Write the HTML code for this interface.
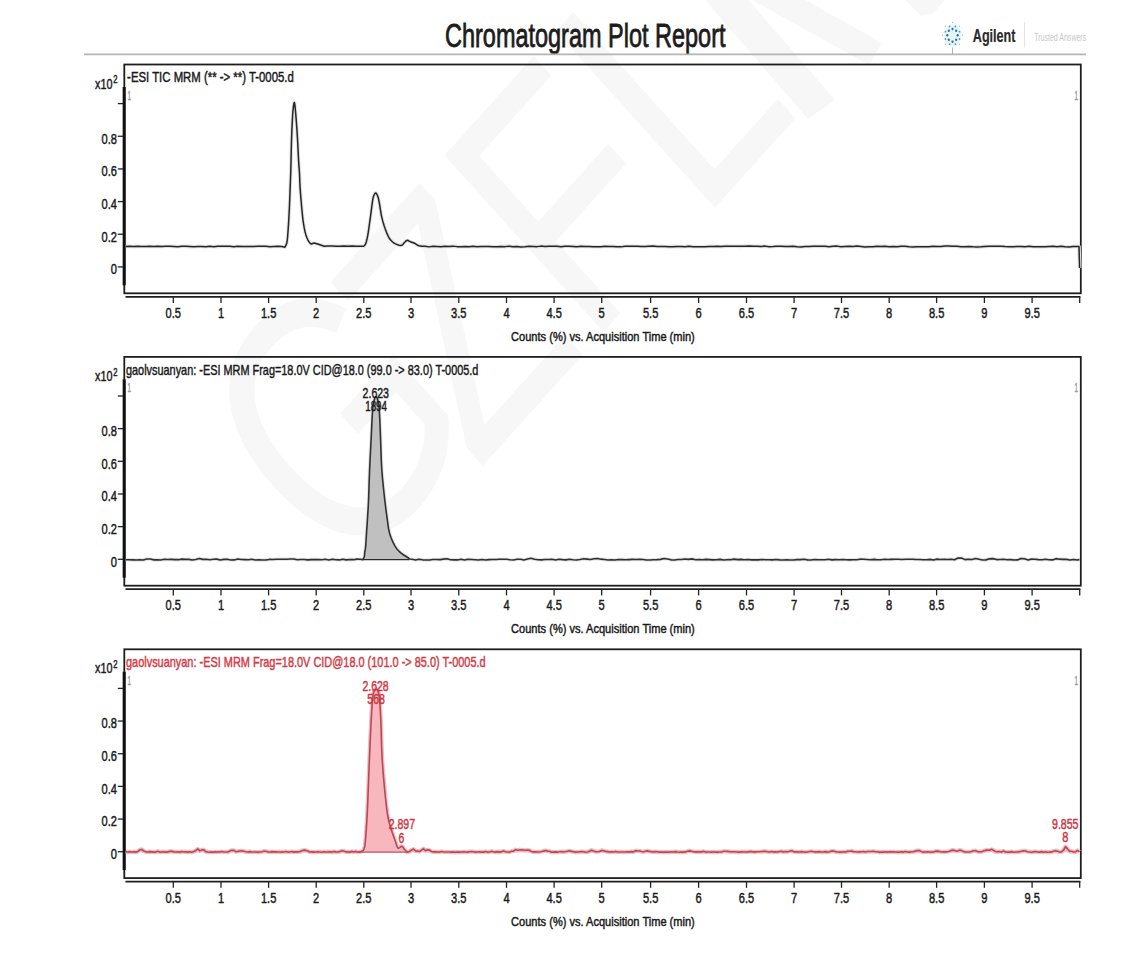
<!DOCTYPE html>
<html><head><meta charset="utf-8"><title>Chromatogram Plot Report</title>
<style>
html,body{margin:0;padding:0;background:#fff;}
body{width:1134px;height:974px;overflow:hidden;font-family:"Liberation Sans", sans-serif;}
svg{display:block;}
svg text{font-family:"Liberation Sans", sans-serif;}
</style></head>
<body>
<svg width="1134" height="974" viewBox="0 0 1134 974">
<rect width="1134" height="974" fill="#fff"/>
<g transform="translate(335,630) scale(0.9,1) rotate(-45) scale(0.79,1)" font-size="363" fill="#f7f7f7"><text x="49.2" y="-24.0">G</text><text x="282.4" y="0.0">Z</text><text x="504.2" y="0.0">F</text><text x="726.0" y="0.0">L</text></g>
<polygon points="808,119 835,100 671.5,-89 644.5,-70" fill="#f7f7f7"/>
<polygon points="650.7,-56.7 663.3,-79.3 881.9,42.7 869.3,65.3" fill="#f7f7f7"/>
<polygon points="903,-2 947,-2 933,13 921,16" fill="#f7f7f7"/>
<text x="445.00" y="47.00" font-size="32.5" text-anchor="start" fill="#1c1c1c" font-weight="normal" textLength="280.50" lengthAdjust="spacingAndGlyphs" stroke="#1c1c1c" stroke-width="0.8">Chromatogram Plot Report</text>
<line x1="84" y1="54.4" x2="1086" y2="54.4" stroke="#b4b4b4" stroke-width="1.7"/>
<ellipse cx="952.5" cy="35.3" rx="9" ry="11" fill="#e4f5fb"/>
<ellipse cx="957.70" cy="35.30" rx="1.06" ry="1.25" fill="#2d6f88"/><ellipse cx="956.18" cy="39.83" rx="1.06" ry="1.25" fill="#2d6f88"/><ellipse cx="952.50" cy="41.70" rx="1.06" ry="1.25" fill="#2d6f88"/><ellipse cx="948.82" cy="39.83" rx="1.06" ry="1.25" fill="#2d6f88"/><ellipse cx="947.30" cy="35.30" rx="1.06" ry="1.25" fill="#2d6f88"/><ellipse cx="948.82" cy="30.77" rx="1.06" ry="1.25" fill="#2d6f88"/><ellipse cx="952.50" cy="28.90" rx="1.06" ry="1.25" fill="#2d6f88"/><ellipse cx="956.18" cy="30.77" rx="1.06" ry="1.25" fill="#2d6f88"/><ellipse cx="959.52" cy="38.97" rx="0.81" ry="0.95" fill="#4e94ae"/><ellipse cx="955.41" cy="44.17" rx="0.81" ry="0.95" fill="#4e94ae"/><ellipse cx="949.59" cy="44.17" rx="0.81" ry="0.95" fill="#4e94ae"/><ellipse cx="945.48" cy="38.97" rx="0.81" ry="0.95" fill="#4e94ae"/><ellipse cx="945.48" cy="31.63" rx="0.81" ry="0.95" fill="#4e94ae"/><ellipse cx="949.59" cy="26.43" rx="0.81" ry="0.95" fill="#4e94ae"/><ellipse cx="955.41" cy="26.43" rx="0.81" ry="0.95" fill="#4e94ae"/><ellipse cx="959.52" cy="31.63" rx="0.81" ry="0.95" fill="#4e94ae"/><ellipse cx="962.50" cy="35.30" rx="0.64" ry="0.75" fill="#93c1d2"/><ellipse cx="959.57" cy="44.35" rx="0.64" ry="0.75" fill="#93c1d2"/><ellipse cx="952.50" cy="48.10" rx="0.64" ry="0.75" fill="#93c1d2"/><ellipse cx="945.43" cy="44.35" rx="0.64" ry="0.75" fill="#93c1d2"/><ellipse cx="942.50" cy="35.30" rx="0.64" ry="0.75" fill="#93c1d2"/><ellipse cx="945.43" cy="26.25" rx="0.64" ry="0.75" fill="#93c1d2"/><ellipse cx="952.50" cy="22.50" rx="0.64" ry="0.75" fill="#93c1d2"/><ellipse cx="959.57" cy="26.25" rx="0.64" ry="0.75" fill="#93c1d2"/>
<line x1="952.5" y1="48.3" x2="952.5" y2="54" stroke="#a0a0a0" stroke-width="0.8"/>
<text x="972.80" y="41.50" font-size="18.8" text-anchor="start" fill="#2a2a2a" font-weight="bold" textLength="42.70" lengthAdjust="spacingAndGlyphs" stroke="#2a2a2a" stroke-width="0.2">Agilent</text>
<line x1="1024.6" y1="22" x2="1024.6" y2="47.5" stroke="#e2e2e2" stroke-width="1"/>
<text x="1034.20" y="41.00" font-size="11.5" text-anchor="start" fill="#c8c8c8" font-weight="normal" textLength="52.00" lengthAdjust="spacingAndGlyphs">Trusted Answers</text>
<text x="127.10" y="82.40" font-size="14.5" text-anchor="start" fill="#1a1a1a" font-weight="normal" textLength="166.70" lengthAdjust="spacingAndGlyphs" stroke="#1a1a1a" stroke-width="0.45">-ESI TIC MRM (** -&gt; **) T-0005.d</text>
<text x="95.00" y="88.60" font-size="14.2" text-anchor="start" fill="#1a1a1a" font-weight="normal" textLength="17.40" lengthAdjust="spacingAndGlyphs" stroke="#1a1a1a" stroke-width="0.45">x10</text>
<text x="113.30" y="83.20" font-size="11" text-anchor="start" fill="#1a1a1a" font-weight="normal" textLength="4.30" lengthAdjust="spacingAndGlyphs" stroke="#1a1a1a" stroke-width="0.45">2</text>
<rect x="124.3" y="64.5" width="956.5" height="228.8" fill="none" stroke="#1e1e1e" stroke-width="1.8"/>
<line x1="124.2" y1="87.0" x2="124.2" y2="285.3" stroke="#111" stroke-width="3.1"/>
<line x1="117.8" y1="103.60" x2="123" y2="103.60" stroke="#222" stroke-width="1.3"/>
<line x1="117.8" y1="136.26" x2="123" y2="136.26" stroke="#222" stroke-width="1.3"/>
<text x="101.50" y="143.66" font-size="14.0" text-anchor="start" fill="#1a1a1a" font-weight="normal" textLength="15.40" lengthAdjust="spacingAndGlyphs" stroke="#1a1a1a" stroke-width="0.45">0.8</text>
<line x1="117.8" y1="168.92" x2="123" y2="168.92" stroke="#222" stroke-width="1.3"/>
<text x="101.50" y="176.32" font-size="14.0" text-anchor="start" fill="#1a1a1a" font-weight="normal" textLength="15.40" lengthAdjust="spacingAndGlyphs" stroke="#1a1a1a" stroke-width="0.45">0.6</text>
<line x1="117.8" y1="201.58" x2="123" y2="201.58" stroke="#222" stroke-width="1.3"/>
<text x="101.50" y="208.98" font-size="14.0" text-anchor="start" fill="#1a1a1a" font-weight="normal" textLength="15.40" lengthAdjust="spacingAndGlyphs" stroke="#1a1a1a" stroke-width="0.45">0.4</text>
<line x1="117.8" y1="234.24" x2="123" y2="234.24" stroke="#222" stroke-width="1.3"/>
<text x="101.50" y="241.64" font-size="14.0" text-anchor="start" fill="#1a1a1a" font-weight="normal" textLength="15.40" lengthAdjust="spacingAndGlyphs" stroke="#1a1a1a" stroke-width="0.45">0.2</text>
<line x1="117.8" y1="266.90" x2="123" y2="266.90" stroke="#222" stroke-width="1.3"/>
<text x="110.70" y="274.30" font-size="14.0" text-anchor="start" fill="#1a1a1a" font-weight="normal" textLength="6.20" lengthAdjust="spacingAndGlyphs" stroke="#1a1a1a" stroke-width="0.45">0</text>
<text x="127.60" y="99.90" font-size="12.5" text-anchor="start" fill="#9a9a9a" font-weight="normal" textLength="3.50" lengthAdjust="spacingAndGlyphs" stroke="#9a9a9a" stroke-width="0.45">1</text>
<text x="1074.50" y="99.90" font-size="12.5" text-anchor="start" fill="#9a9a9a" font-weight="normal" textLength="3.50" lengthAdjust="spacingAndGlyphs" stroke="#9a9a9a" stroke-width="0.45">1</text>
<line x1="125.5" y1="296.8" x2="1080.4" y2="296.8" stroke="#1e1e1e" stroke-width="1.8"/>
<line x1="173.30" y1="296.8" x2="173.30" y2="303.0" stroke="#222" stroke-width="1.3"/>
<text x="165.60" y="318.00" font-size="14.0" text-anchor="start" fill="#1a1a1a" font-weight="normal" textLength="15.40" lengthAdjust="spacingAndGlyphs" stroke="#1a1a1a" stroke-width="0.45">0.5</text>
<line x1="221.00" y1="296.8" x2="221.00" y2="303.0" stroke="#222" stroke-width="1.3"/>
<text x="217.90" y="318.00" font-size="14.0" text-anchor="start" fill="#1a1a1a" font-weight="normal" textLength="6.20" lengthAdjust="spacingAndGlyphs" stroke="#1a1a1a" stroke-width="0.45">1</text>
<line x1="268.60" y1="296.8" x2="268.60" y2="303.0" stroke="#222" stroke-width="1.3"/>
<text x="260.90" y="318.00" font-size="14.0" text-anchor="start" fill="#1a1a1a" font-weight="normal" textLength="15.40" lengthAdjust="spacingAndGlyphs" stroke="#1a1a1a" stroke-width="0.45">1.5</text>
<line x1="316.20" y1="296.8" x2="316.20" y2="303.0" stroke="#222" stroke-width="1.3"/>
<text x="313.10" y="318.00" font-size="14.0" text-anchor="start" fill="#1a1a1a" font-weight="normal" textLength="6.20" lengthAdjust="spacingAndGlyphs" stroke="#1a1a1a" stroke-width="0.45">2</text>
<line x1="363.80" y1="296.8" x2="363.80" y2="303.0" stroke="#222" stroke-width="1.3"/>
<text x="356.10" y="318.00" font-size="14.0" text-anchor="start" fill="#1a1a1a" font-weight="normal" textLength="15.40" lengthAdjust="spacingAndGlyphs" stroke="#1a1a1a" stroke-width="0.45">2.5</text>
<line x1="411.00" y1="296.8" x2="411.00" y2="303.0" stroke="#222" stroke-width="1.3"/>
<text x="407.90" y="318.00" font-size="14.0" text-anchor="start" fill="#1a1a1a" font-weight="normal" textLength="6.20" lengthAdjust="spacingAndGlyphs" stroke="#1a1a1a" stroke-width="0.45">3</text>
<line x1="458.80" y1="296.8" x2="458.80" y2="303.0" stroke="#222" stroke-width="1.3"/>
<text x="451.10" y="318.00" font-size="14.0" text-anchor="start" fill="#1a1a1a" font-weight="normal" textLength="15.40" lengthAdjust="spacingAndGlyphs" stroke="#1a1a1a" stroke-width="0.45">3.5</text>
<line x1="506.50" y1="296.8" x2="506.50" y2="303.0" stroke="#222" stroke-width="1.3"/>
<text x="503.40" y="318.00" font-size="14.0" text-anchor="start" fill="#1a1a1a" font-weight="normal" textLength="6.20" lengthAdjust="spacingAndGlyphs" stroke="#1a1a1a" stroke-width="0.45">4</text>
<line x1="554.10" y1="296.8" x2="554.10" y2="303.0" stroke="#222" stroke-width="1.3"/>
<text x="546.40" y="318.00" font-size="14.0" text-anchor="start" fill="#1a1a1a" font-weight="normal" textLength="15.40" lengthAdjust="spacingAndGlyphs" stroke="#1a1a1a" stroke-width="0.45">4.5</text>
<line x1="601.70" y1="296.8" x2="601.70" y2="303.0" stroke="#222" stroke-width="1.3"/>
<text x="598.60" y="318.00" font-size="14.0" text-anchor="start" fill="#1a1a1a" font-weight="normal" textLength="6.20" lengthAdjust="spacingAndGlyphs" stroke="#1a1a1a" stroke-width="0.45">5</text>
<line x1="650.60" y1="296.8" x2="650.60" y2="303.0" stroke="#222" stroke-width="1.3"/>
<text x="642.90" y="318.00" font-size="14.0" text-anchor="start" fill="#1a1a1a" font-weight="normal" textLength="15.40" lengthAdjust="spacingAndGlyphs" stroke="#1a1a1a" stroke-width="0.45">5.5</text>
<line x1="698.60" y1="296.8" x2="698.60" y2="303.0" stroke="#222" stroke-width="1.3"/>
<text x="695.50" y="318.00" font-size="14.0" text-anchor="start" fill="#1a1a1a" font-weight="normal" textLength="6.20" lengthAdjust="spacingAndGlyphs" stroke="#1a1a1a" stroke-width="0.45">6</text>
<line x1="746.50" y1="296.8" x2="746.50" y2="303.0" stroke="#222" stroke-width="1.3"/>
<text x="738.80" y="318.00" font-size="14.0" text-anchor="start" fill="#1a1a1a" font-weight="normal" textLength="15.40" lengthAdjust="spacingAndGlyphs" stroke="#1a1a1a" stroke-width="0.45">6.5</text>
<line x1="794.10" y1="296.8" x2="794.10" y2="303.0" stroke="#222" stroke-width="1.3"/>
<text x="791.00" y="318.00" font-size="14.0" text-anchor="start" fill="#1a1a1a" font-weight="normal" textLength="6.20" lengthAdjust="spacingAndGlyphs" stroke="#1a1a1a" stroke-width="0.45">7</text>
<line x1="841.50" y1="296.8" x2="841.50" y2="303.0" stroke="#222" stroke-width="1.3"/>
<text x="833.80" y="318.00" font-size="14.0" text-anchor="start" fill="#1a1a1a" font-weight="normal" textLength="15.40" lengthAdjust="spacingAndGlyphs" stroke="#1a1a1a" stroke-width="0.45">7.5</text>
<line x1="889.20" y1="296.8" x2="889.20" y2="303.0" stroke="#222" stroke-width="1.3"/>
<text x="886.10" y="318.00" font-size="14.0" text-anchor="start" fill="#1a1a1a" font-weight="normal" textLength="6.20" lengthAdjust="spacingAndGlyphs" stroke="#1a1a1a" stroke-width="0.45">8</text>
<line x1="936.60" y1="296.8" x2="936.60" y2="303.0" stroke="#222" stroke-width="1.3"/>
<text x="928.90" y="318.00" font-size="14.0" text-anchor="start" fill="#1a1a1a" font-weight="normal" textLength="15.40" lengthAdjust="spacingAndGlyphs" stroke="#1a1a1a" stroke-width="0.45">8.5</text>
<line x1="984.40" y1="296.8" x2="984.40" y2="303.0" stroke="#222" stroke-width="1.3"/>
<text x="981.30" y="318.00" font-size="14.0" text-anchor="start" fill="#1a1a1a" font-weight="normal" textLength="6.20" lengthAdjust="spacingAndGlyphs" stroke="#1a1a1a" stroke-width="0.45">9</text>
<line x1="1032.10" y1="296.8" x2="1032.10" y2="303.0" stroke="#222" stroke-width="1.3"/>
<text x="1024.40" y="318.00" font-size="14.0" text-anchor="start" fill="#1a1a1a" font-weight="normal" textLength="15.40" lengthAdjust="spacingAndGlyphs" stroke="#1a1a1a" stroke-width="0.45">9.5</text>
<line x1="1079.70" y1="296.8" x2="1079.70" y2="303.0" stroke="#222" stroke-width="1.3"/>
<text x="511.10" y="340.90" font-size="12.6" text-anchor="start" fill="#1a1a1a" font-weight="normal" textLength="183.70" lengthAdjust="spacingAndGlyphs" stroke="#1a1a1a" stroke-width="0.45">Counts (%) vs. Acquisition Time (min)</text>
<text x="126.00" y="374.80" font-size="14.5" text-anchor="start" fill="#1a1a1a" font-weight="normal" textLength="352.40" lengthAdjust="spacingAndGlyphs" stroke="#1a1a1a" stroke-width="0.45">gaolvsuanyan: -ESI MRM Frag=18.0V CID@18.0 (99.0 -&gt; 83.0) T-0005.d</text>
<text x="95.00" y="381.00" font-size="14.2" text-anchor="start" fill="#1a1a1a" font-weight="normal" textLength="17.40" lengthAdjust="spacingAndGlyphs" stroke="#1a1a1a" stroke-width="0.45">x10</text>
<text x="113.30" y="375.60" font-size="11" text-anchor="start" fill="#1a1a1a" font-weight="normal" textLength="4.30" lengthAdjust="spacingAndGlyphs" stroke="#1a1a1a" stroke-width="0.45">2</text>
<rect x="124.3" y="356.9" width="956.5" height="228.8" fill="none" stroke="#1e1e1e" stroke-width="1.8"/>
<line x1="124.2" y1="379.4" x2="124.2" y2="577.7" stroke="#111" stroke-width="3.1"/>
<line x1="117.8" y1="396.00" x2="123" y2="396.00" stroke="#222" stroke-width="1.3"/>
<line x1="117.8" y1="428.66" x2="123" y2="428.66" stroke="#222" stroke-width="1.3"/>
<text x="101.50" y="436.06" font-size="14.0" text-anchor="start" fill="#1a1a1a" font-weight="normal" textLength="15.40" lengthAdjust="spacingAndGlyphs" stroke="#1a1a1a" stroke-width="0.45">0.8</text>
<line x1="117.8" y1="461.32" x2="123" y2="461.32" stroke="#222" stroke-width="1.3"/>
<text x="101.50" y="468.72" font-size="14.0" text-anchor="start" fill="#1a1a1a" font-weight="normal" textLength="15.40" lengthAdjust="spacingAndGlyphs" stroke="#1a1a1a" stroke-width="0.45">0.6</text>
<line x1="117.8" y1="493.98" x2="123" y2="493.98" stroke="#222" stroke-width="1.3"/>
<text x="101.50" y="501.38" font-size="14.0" text-anchor="start" fill="#1a1a1a" font-weight="normal" textLength="15.40" lengthAdjust="spacingAndGlyphs" stroke="#1a1a1a" stroke-width="0.45">0.4</text>
<line x1="117.8" y1="526.64" x2="123" y2="526.64" stroke="#222" stroke-width="1.3"/>
<text x="101.50" y="534.04" font-size="14.0" text-anchor="start" fill="#1a1a1a" font-weight="normal" textLength="15.40" lengthAdjust="spacingAndGlyphs" stroke="#1a1a1a" stroke-width="0.45">0.2</text>
<line x1="117.8" y1="559.30" x2="123" y2="559.30" stroke="#222" stroke-width="1.3"/>
<text x="110.70" y="566.70" font-size="14.0" text-anchor="start" fill="#1a1a1a" font-weight="normal" textLength="6.20" lengthAdjust="spacingAndGlyphs" stroke="#1a1a1a" stroke-width="0.45">0</text>
<text x="127.60" y="392.30" font-size="12.5" text-anchor="start" fill="#9a9a9a" font-weight="normal" textLength="3.50" lengthAdjust="spacingAndGlyphs" stroke="#9a9a9a" stroke-width="0.45">1</text>
<text x="1074.50" y="392.30" font-size="12.5" text-anchor="start" fill="#9a9a9a" font-weight="normal" textLength="3.50" lengthAdjust="spacingAndGlyphs" stroke="#9a9a9a" stroke-width="0.45">1</text>
<line x1="125.5" y1="589.2" x2="1080.4" y2="589.2" stroke="#1e1e1e" stroke-width="1.8"/>
<line x1="173.30" y1="589.2" x2="173.30" y2="595.4" stroke="#222" stroke-width="1.3"/>
<text x="165.60" y="610.40" font-size="14.0" text-anchor="start" fill="#1a1a1a" font-weight="normal" textLength="15.40" lengthAdjust="spacingAndGlyphs" stroke="#1a1a1a" stroke-width="0.45">0.5</text>
<line x1="221.00" y1="589.2" x2="221.00" y2="595.4" stroke="#222" stroke-width="1.3"/>
<text x="217.90" y="610.40" font-size="14.0" text-anchor="start" fill="#1a1a1a" font-weight="normal" textLength="6.20" lengthAdjust="spacingAndGlyphs" stroke="#1a1a1a" stroke-width="0.45">1</text>
<line x1="268.60" y1="589.2" x2="268.60" y2="595.4" stroke="#222" stroke-width="1.3"/>
<text x="260.90" y="610.40" font-size="14.0" text-anchor="start" fill="#1a1a1a" font-weight="normal" textLength="15.40" lengthAdjust="spacingAndGlyphs" stroke="#1a1a1a" stroke-width="0.45">1.5</text>
<line x1="316.20" y1="589.2" x2="316.20" y2="595.4" stroke="#222" stroke-width="1.3"/>
<text x="313.10" y="610.40" font-size="14.0" text-anchor="start" fill="#1a1a1a" font-weight="normal" textLength="6.20" lengthAdjust="spacingAndGlyphs" stroke="#1a1a1a" stroke-width="0.45">2</text>
<line x1="363.80" y1="589.2" x2="363.80" y2="595.4" stroke="#222" stroke-width="1.3"/>
<text x="356.10" y="610.40" font-size="14.0" text-anchor="start" fill="#1a1a1a" font-weight="normal" textLength="15.40" lengthAdjust="spacingAndGlyphs" stroke="#1a1a1a" stroke-width="0.45">2.5</text>
<line x1="411.00" y1="589.2" x2="411.00" y2="595.4" stroke="#222" stroke-width="1.3"/>
<text x="407.90" y="610.40" font-size="14.0" text-anchor="start" fill="#1a1a1a" font-weight="normal" textLength="6.20" lengthAdjust="spacingAndGlyphs" stroke="#1a1a1a" stroke-width="0.45">3</text>
<line x1="458.80" y1="589.2" x2="458.80" y2="595.4" stroke="#222" stroke-width="1.3"/>
<text x="451.10" y="610.40" font-size="14.0" text-anchor="start" fill="#1a1a1a" font-weight="normal" textLength="15.40" lengthAdjust="spacingAndGlyphs" stroke="#1a1a1a" stroke-width="0.45">3.5</text>
<line x1="506.50" y1="589.2" x2="506.50" y2="595.4" stroke="#222" stroke-width="1.3"/>
<text x="503.40" y="610.40" font-size="14.0" text-anchor="start" fill="#1a1a1a" font-weight="normal" textLength="6.20" lengthAdjust="spacingAndGlyphs" stroke="#1a1a1a" stroke-width="0.45">4</text>
<line x1="554.10" y1="589.2" x2="554.10" y2="595.4" stroke="#222" stroke-width="1.3"/>
<text x="546.40" y="610.40" font-size="14.0" text-anchor="start" fill="#1a1a1a" font-weight="normal" textLength="15.40" lengthAdjust="spacingAndGlyphs" stroke="#1a1a1a" stroke-width="0.45">4.5</text>
<line x1="601.70" y1="589.2" x2="601.70" y2="595.4" stroke="#222" stroke-width="1.3"/>
<text x="598.60" y="610.40" font-size="14.0" text-anchor="start" fill="#1a1a1a" font-weight="normal" textLength="6.20" lengthAdjust="spacingAndGlyphs" stroke="#1a1a1a" stroke-width="0.45">5</text>
<line x1="650.60" y1="589.2" x2="650.60" y2="595.4" stroke="#222" stroke-width="1.3"/>
<text x="642.90" y="610.40" font-size="14.0" text-anchor="start" fill="#1a1a1a" font-weight="normal" textLength="15.40" lengthAdjust="spacingAndGlyphs" stroke="#1a1a1a" stroke-width="0.45">5.5</text>
<line x1="698.60" y1="589.2" x2="698.60" y2="595.4" stroke="#222" stroke-width="1.3"/>
<text x="695.50" y="610.40" font-size="14.0" text-anchor="start" fill="#1a1a1a" font-weight="normal" textLength="6.20" lengthAdjust="spacingAndGlyphs" stroke="#1a1a1a" stroke-width="0.45">6</text>
<line x1="746.50" y1="589.2" x2="746.50" y2="595.4" stroke="#222" stroke-width="1.3"/>
<text x="738.80" y="610.40" font-size="14.0" text-anchor="start" fill="#1a1a1a" font-weight="normal" textLength="15.40" lengthAdjust="spacingAndGlyphs" stroke="#1a1a1a" stroke-width="0.45">6.5</text>
<line x1="794.10" y1="589.2" x2="794.10" y2="595.4" stroke="#222" stroke-width="1.3"/>
<text x="791.00" y="610.40" font-size="14.0" text-anchor="start" fill="#1a1a1a" font-weight="normal" textLength="6.20" lengthAdjust="spacingAndGlyphs" stroke="#1a1a1a" stroke-width="0.45">7</text>
<line x1="841.50" y1="589.2" x2="841.50" y2="595.4" stroke="#222" stroke-width="1.3"/>
<text x="833.80" y="610.40" font-size="14.0" text-anchor="start" fill="#1a1a1a" font-weight="normal" textLength="15.40" lengthAdjust="spacingAndGlyphs" stroke="#1a1a1a" stroke-width="0.45">7.5</text>
<line x1="889.20" y1="589.2" x2="889.20" y2="595.4" stroke="#222" stroke-width="1.3"/>
<text x="886.10" y="610.40" font-size="14.0" text-anchor="start" fill="#1a1a1a" font-weight="normal" textLength="6.20" lengthAdjust="spacingAndGlyphs" stroke="#1a1a1a" stroke-width="0.45">8</text>
<line x1="936.60" y1="589.2" x2="936.60" y2="595.4" stroke="#222" stroke-width="1.3"/>
<text x="928.90" y="610.40" font-size="14.0" text-anchor="start" fill="#1a1a1a" font-weight="normal" textLength="15.40" lengthAdjust="spacingAndGlyphs" stroke="#1a1a1a" stroke-width="0.45">8.5</text>
<line x1="984.40" y1="589.2" x2="984.40" y2="595.4" stroke="#222" stroke-width="1.3"/>
<text x="981.30" y="610.40" font-size="14.0" text-anchor="start" fill="#1a1a1a" font-weight="normal" textLength="6.20" lengthAdjust="spacingAndGlyphs" stroke="#1a1a1a" stroke-width="0.45">9</text>
<line x1="1032.10" y1="589.2" x2="1032.10" y2="595.4" stroke="#222" stroke-width="1.3"/>
<text x="1024.40" y="610.40" font-size="14.0" text-anchor="start" fill="#1a1a1a" font-weight="normal" textLength="15.40" lengthAdjust="spacingAndGlyphs" stroke="#1a1a1a" stroke-width="0.45">9.5</text>
<line x1="1079.70" y1="589.2" x2="1079.70" y2="595.4" stroke="#222" stroke-width="1.3"/>
<text x="511.10" y="633.30" font-size="12.6" text-anchor="start" fill="#1a1a1a" font-weight="normal" textLength="183.70" lengthAdjust="spacingAndGlyphs" stroke="#1a1a1a" stroke-width="0.45">Counts (%) vs. Acquisition Time (min)</text>
<text x="126.00" y="667.20" font-size="14.5" text-anchor="start" fill="#d43a45" font-weight="normal" textLength="359.60" lengthAdjust="spacingAndGlyphs" stroke="#d43a45" stroke-width="0.45">gaolvsuanyan: -ESI MRM Frag=18.0V CID@18.0 (101.0 -&gt; 85.0) T-0005.d</text>
<text x="95.00" y="673.40" font-size="14.2" text-anchor="start" fill="#1a1a1a" font-weight="normal" textLength="17.40" lengthAdjust="spacingAndGlyphs" stroke="#1a1a1a" stroke-width="0.45">x10</text>
<text x="113.30" y="668.00" font-size="11" text-anchor="start" fill="#1a1a1a" font-weight="normal" textLength="4.30" lengthAdjust="spacingAndGlyphs" stroke="#1a1a1a" stroke-width="0.45">2</text>
<rect x="124.3" y="649.3" width="956.5" height="228.8" fill="none" stroke="#1e1e1e" stroke-width="1.8"/>
<line x1="124.2" y1="671.8" x2="124.2" y2="870.0999999999999" stroke="#111" stroke-width="3.1"/>
<line x1="117.8" y1="688.40" x2="123" y2="688.40" stroke="#222" stroke-width="1.3"/>
<line x1="117.8" y1="721.06" x2="123" y2="721.06" stroke="#222" stroke-width="1.3"/>
<text x="101.50" y="728.46" font-size="14.0" text-anchor="start" fill="#1a1a1a" font-weight="normal" textLength="15.40" lengthAdjust="spacingAndGlyphs" stroke="#1a1a1a" stroke-width="0.45">0.8</text>
<line x1="117.8" y1="753.72" x2="123" y2="753.72" stroke="#222" stroke-width="1.3"/>
<text x="101.50" y="761.12" font-size="14.0" text-anchor="start" fill="#1a1a1a" font-weight="normal" textLength="15.40" lengthAdjust="spacingAndGlyphs" stroke="#1a1a1a" stroke-width="0.45">0.6</text>
<line x1="117.8" y1="786.38" x2="123" y2="786.38" stroke="#222" stroke-width="1.3"/>
<text x="101.50" y="793.78" font-size="14.0" text-anchor="start" fill="#1a1a1a" font-weight="normal" textLength="15.40" lengthAdjust="spacingAndGlyphs" stroke="#1a1a1a" stroke-width="0.45">0.4</text>
<line x1="117.8" y1="819.04" x2="123" y2="819.04" stroke="#222" stroke-width="1.3"/>
<text x="101.50" y="826.44" font-size="14.0" text-anchor="start" fill="#1a1a1a" font-weight="normal" textLength="15.40" lengthAdjust="spacingAndGlyphs" stroke="#1a1a1a" stroke-width="0.45">0.2</text>
<line x1="117.8" y1="851.70" x2="123" y2="851.70" stroke="#222" stroke-width="1.3"/>
<text x="110.70" y="859.10" font-size="14.0" text-anchor="start" fill="#1a1a1a" font-weight="normal" textLength="6.20" lengthAdjust="spacingAndGlyphs" stroke="#1a1a1a" stroke-width="0.45">0</text>
<text x="127.60" y="684.70" font-size="12.5" text-anchor="start" fill="#9a9a9a" font-weight="normal" textLength="3.50" lengthAdjust="spacingAndGlyphs" stroke="#9a9a9a" stroke-width="0.45">1</text>
<text x="1074.50" y="684.70" font-size="12.5" text-anchor="start" fill="#9a9a9a" font-weight="normal" textLength="3.50" lengthAdjust="spacingAndGlyphs" stroke="#9a9a9a" stroke-width="0.45">1</text>
<line x1="125.5" y1="881.5999999999999" x2="1080.4" y2="881.5999999999999" stroke="#1e1e1e" stroke-width="1.8"/>
<line x1="173.30" y1="881.5999999999999" x2="173.30" y2="887.8" stroke="#222" stroke-width="1.3"/>
<text x="165.60" y="902.80" font-size="14.0" text-anchor="start" fill="#1a1a1a" font-weight="normal" textLength="15.40" lengthAdjust="spacingAndGlyphs" stroke="#1a1a1a" stroke-width="0.45">0.5</text>
<line x1="221.00" y1="881.5999999999999" x2="221.00" y2="887.8" stroke="#222" stroke-width="1.3"/>
<text x="217.90" y="902.80" font-size="14.0" text-anchor="start" fill="#1a1a1a" font-weight="normal" textLength="6.20" lengthAdjust="spacingAndGlyphs" stroke="#1a1a1a" stroke-width="0.45">1</text>
<line x1="268.60" y1="881.5999999999999" x2="268.60" y2="887.8" stroke="#222" stroke-width="1.3"/>
<text x="260.90" y="902.80" font-size="14.0" text-anchor="start" fill="#1a1a1a" font-weight="normal" textLength="15.40" lengthAdjust="spacingAndGlyphs" stroke="#1a1a1a" stroke-width="0.45">1.5</text>
<line x1="316.20" y1="881.5999999999999" x2="316.20" y2="887.8" stroke="#222" stroke-width="1.3"/>
<text x="313.10" y="902.80" font-size="14.0" text-anchor="start" fill="#1a1a1a" font-weight="normal" textLength="6.20" lengthAdjust="spacingAndGlyphs" stroke="#1a1a1a" stroke-width="0.45">2</text>
<line x1="363.80" y1="881.5999999999999" x2="363.80" y2="887.8" stroke="#222" stroke-width="1.3"/>
<text x="356.10" y="902.80" font-size="14.0" text-anchor="start" fill="#1a1a1a" font-weight="normal" textLength="15.40" lengthAdjust="spacingAndGlyphs" stroke="#1a1a1a" stroke-width="0.45">2.5</text>
<line x1="411.00" y1="881.5999999999999" x2="411.00" y2="887.8" stroke="#222" stroke-width="1.3"/>
<text x="407.90" y="902.80" font-size="14.0" text-anchor="start" fill="#1a1a1a" font-weight="normal" textLength="6.20" lengthAdjust="spacingAndGlyphs" stroke="#1a1a1a" stroke-width="0.45">3</text>
<line x1="458.80" y1="881.5999999999999" x2="458.80" y2="887.8" stroke="#222" stroke-width="1.3"/>
<text x="451.10" y="902.80" font-size="14.0" text-anchor="start" fill="#1a1a1a" font-weight="normal" textLength="15.40" lengthAdjust="spacingAndGlyphs" stroke="#1a1a1a" stroke-width="0.45">3.5</text>
<line x1="506.50" y1="881.5999999999999" x2="506.50" y2="887.8" stroke="#222" stroke-width="1.3"/>
<text x="503.40" y="902.80" font-size="14.0" text-anchor="start" fill="#1a1a1a" font-weight="normal" textLength="6.20" lengthAdjust="spacingAndGlyphs" stroke="#1a1a1a" stroke-width="0.45">4</text>
<line x1="554.10" y1="881.5999999999999" x2="554.10" y2="887.8" stroke="#222" stroke-width="1.3"/>
<text x="546.40" y="902.80" font-size="14.0" text-anchor="start" fill="#1a1a1a" font-weight="normal" textLength="15.40" lengthAdjust="spacingAndGlyphs" stroke="#1a1a1a" stroke-width="0.45">4.5</text>
<line x1="601.70" y1="881.5999999999999" x2="601.70" y2="887.8" stroke="#222" stroke-width="1.3"/>
<text x="598.60" y="902.80" font-size="14.0" text-anchor="start" fill="#1a1a1a" font-weight="normal" textLength="6.20" lengthAdjust="spacingAndGlyphs" stroke="#1a1a1a" stroke-width="0.45">5</text>
<line x1="650.60" y1="881.5999999999999" x2="650.60" y2="887.8" stroke="#222" stroke-width="1.3"/>
<text x="642.90" y="902.80" font-size="14.0" text-anchor="start" fill="#1a1a1a" font-weight="normal" textLength="15.40" lengthAdjust="spacingAndGlyphs" stroke="#1a1a1a" stroke-width="0.45">5.5</text>
<line x1="698.60" y1="881.5999999999999" x2="698.60" y2="887.8" stroke="#222" stroke-width="1.3"/>
<text x="695.50" y="902.80" font-size="14.0" text-anchor="start" fill="#1a1a1a" font-weight="normal" textLength="6.20" lengthAdjust="spacingAndGlyphs" stroke="#1a1a1a" stroke-width="0.45">6</text>
<line x1="746.50" y1="881.5999999999999" x2="746.50" y2="887.8" stroke="#222" stroke-width="1.3"/>
<text x="738.80" y="902.80" font-size="14.0" text-anchor="start" fill="#1a1a1a" font-weight="normal" textLength="15.40" lengthAdjust="spacingAndGlyphs" stroke="#1a1a1a" stroke-width="0.45">6.5</text>
<line x1="794.10" y1="881.5999999999999" x2="794.10" y2="887.8" stroke="#222" stroke-width="1.3"/>
<text x="791.00" y="902.80" font-size="14.0" text-anchor="start" fill="#1a1a1a" font-weight="normal" textLength="6.20" lengthAdjust="spacingAndGlyphs" stroke="#1a1a1a" stroke-width="0.45">7</text>
<line x1="841.50" y1="881.5999999999999" x2="841.50" y2="887.8" stroke="#222" stroke-width="1.3"/>
<text x="833.80" y="902.80" font-size="14.0" text-anchor="start" fill="#1a1a1a" font-weight="normal" textLength="15.40" lengthAdjust="spacingAndGlyphs" stroke="#1a1a1a" stroke-width="0.45">7.5</text>
<line x1="889.20" y1="881.5999999999999" x2="889.20" y2="887.8" stroke="#222" stroke-width="1.3"/>
<text x="886.10" y="902.80" font-size="14.0" text-anchor="start" fill="#1a1a1a" font-weight="normal" textLength="6.20" lengthAdjust="spacingAndGlyphs" stroke="#1a1a1a" stroke-width="0.45">8</text>
<line x1="936.60" y1="881.5999999999999" x2="936.60" y2="887.8" stroke="#222" stroke-width="1.3"/>
<text x="928.90" y="902.80" font-size="14.0" text-anchor="start" fill="#1a1a1a" font-weight="normal" textLength="15.40" lengthAdjust="spacingAndGlyphs" stroke="#1a1a1a" stroke-width="0.45">8.5</text>
<line x1="984.40" y1="881.5999999999999" x2="984.40" y2="887.8" stroke="#222" stroke-width="1.3"/>
<text x="981.30" y="902.80" font-size="14.0" text-anchor="start" fill="#1a1a1a" font-weight="normal" textLength="6.20" lengthAdjust="spacingAndGlyphs" stroke="#1a1a1a" stroke-width="0.45">9</text>
<line x1="1032.10" y1="881.5999999999999" x2="1032.10" y2="887.8" stroke="#222" stroke-width="1.3"/>
<text x="1024.40" y="902.80" font-size="14.0" text-anchor="start" fill="#1a1a1a" font-weight="normal" textLength="15.40" lengthAdjust="spacingAndGlyphs" stroke="#1a1a1a" stroke-width="0.45">9.5</text>
<line x1="1079.70" y1="881.5999999999999" x2="1079.70" y2="887.8" stroke="#222" stroke-width="1.3"/>
<text x="511.10" y="925.70" font-size="12.6" text-anchor="start" fill="#1a1a1a" font-weight="normal" textLength="183.70" lengthAdjust="spacingAndGlyphs" stroke="#1a1a1a" stroke-width="0.45">Counts (%) vs. Acquisition Time (min)</text>
<polyline points="125.80,246.38 129.80,246.26 133.80,246.61 137.80,246.20 141.80,246.53 145.80,246.41 149.80,246.19 153.80,246.51 157.80,246.18 161.80,246.45 165.80,246.20 169.80,246.21 173.80,246.45 177.80,246.73 181.80,246.24 185.80,246.31 189.80,246.59 193.80,246.81 197.80,246.55 201.80,246.43 205.80,246.83 209.80,246.18 213.80,246.75 217.80,246.35 221.80,246.25 225.80,246.23 229.80,246.37 233.80,246.72 237.80,246.28 241.80,246.56 245.80,246.60 249.80,246.41 253.80,246.53 257.80,246.19 261.80,246.19 265.80,246.29 269.80,246.63 273.80,246.45 277.80,246.37 281.80,246.56 284.90,247.20 285.34,246.37 285.97,245.18 286.50,243.90 286.83,242.74 287.07,241.50 287.30,239.80 287.54,237.52 287.76,234.79 288.00,231.60 288.26,227.96 288.53,223.86 288.80,219.30 289.07,214.11 289.35,208.45 289.60,202.80 289.81,197.33 290.01,191.86 290.20,186.40 290.40,181.28 290.60,176.16 290.80,170.00 291.00,161.78 291.20,152.52 291.40,144.30 291.59,138.15 291.78,133.03 292.00,127.90 292.26,122.13 292.55,116.35 292.90,111.40 293.34,107.18 293.83,103.79 294.30,102.40 294.71,103.79 295.10,107.18 295.50,111.40 295.94,116.35 296.39,122.13 296.80,127.90 297.16,133.37 297.49,138.84 297.80,144.30 298.08,149.89 298.33,155.48 298.60,160.70 298.91,165.33 299.23,169.59 299.50,173.80 299.67,177.90 299.79,181.94 300.00,186.40 300.36,191.58 300.81,197.19 301.30,202.80 301.79,208.45 302.32,214.11 302.90,219.30 303.54,223.86 304.23,227.96 305.00,231.60 305.86,234.79 306.80,237.52 307.80,239.80 308.89,241.65 310.04,243.05 311.10,243.90 311.90,243.92 312.62,243.40 313.60,243.10 315.02,243.32 316.71,243.77 318.50,244.30 320.58,244.98 322.76,245.75 324.30,246.30 328.00,246.07 332.00,245.98 336.00,246.28 340.00,246.22 344.00,245.95 348.00,246.14 352.00,246.12 356.00,246.33 360.00,246.24 363.70,246.20 364.22,245.76 364.96,245.03 365.70,243.70 366.38,241.54 367.06,238.77 367.70,235.70 368.27,232.31 368.80,228.61 369.30,225.00 369.79,221.61 370.25,218.31 370.70,215.00 371.14,211.59 371.57,208.19 372.00,205.00 372.39,202.04 372.79,199.30 373.30,197.00 374.02,195.04 374.87,193.51 375.70,192.90 376.50,193.51 377.28,195.04 378.00,197.00 378.61,199.30 379.16,202.04 379.70,205.00 380.23,208.26 380.74,211.74 381.30,215.00 381.91,217.81 382.57,220.41 383.30,223.00 384.14,225.71 385.05,228.43 386.00,231.00 386.94,233.41 387.91,235.67 389.00,237.70 390.23,239.47 391.58,241.01 393.00,242.30 394.54,243.33 396.16,244.11 397.70,244.70 399.12,245.17 400.47,245.43 401.70,245.30 402.79,244.53 403.77,243.36 404.70,242.30 405.58,241.43 406.42,240.68 407.30,240.30 408.22,240.51 409.18,241.09 410.30,241.70 411.71,242.20 413.29,242.73 414.70,243.30 415.77,243.97 416.68,244.69 417.70,245.30 419.11,245.74 420.63,246.08 421.70,246.30 425.00,246.33 429.00,246.88 433.00,246.19 437.00,246.43 441.00,246.71 445.00,246.22 449.00,246.49 453.00,246.13 457.00,246.63 461.00,246.71 465.00,246.56 469.00,246.80 473.00,246.35 477.00,246.66 481.00,246.58 485.00,246.56 489.00,246.46 493.00,246.77 497.00,246.86 501.00,246.48 505.00,246.63 509.00,246.15 513.00,246.66 517.00,246.62 521.00,246.89 525.00,246.76 529.00,246.33 533.00,246.41 537.00,246.63 541.00,246.12 545.00,246.47 549.00,246.23 553.00,246.19 557.00,246.15 561.00,246.71 565.00,246.20 569.00,246.30 573.00,246.41 577.00,246.80 581.00,246.16 585.00,246.46 589.00,246.54 593.00,246.81 597.00,246.76 601.00,246.79 605.00,246.32 609.00,246.43 613.00,246.39 617.00,246.81 621.00,246.87 625.00,246.22 629.00,246.24 633.00,246.29 637.00,246.29 641.00,246.49 645.00,246.57 649.00,246.31 653.00,246.10 657.00,246.44 661.00,246.40 665.00,246.55 669.00,246.86 673.00,246.65 677.00,246.51 681.00,246.59 685.00,246.64 689.00,246.14 693.00,246.82 697.00,246.72 701.00,246.80 705.00,246.74 709.00,246.41 713.00,246.42 717.00,246.18 721.00,246.61 725.00,246.15 729.00,246.15 733.00,246.27 737.00,246.23 741.00,246.37 745.00,246.14 749.00,246.10 753.00,246.22 757.00,246.18 761.00,246.39 765.00,246.12 769.00,246.80 773.00,246.59 777.00,246.22 781.00,246.30 785.00,246.38 789.00,246.39 793.00,246.20 797.00,246.78 801.00,246.89 805.00,246.47 809.00,246.49 813.00,246.17 817.00,246.18 821.00,246.37 825.00,246.31 829.00,246.76 833.00,246.23 837.00,246.12 841.00,246.86 845.00,246.52 849.00,246.22 853.00,246.53 857.00,246.12 861.00,246.52 865.00,246.88 869.00,246.79 873.00,246.66 877.00,246.31 881.00,246.39 885.00,246.23 889.00,246.72 893.00,246.53 897.00,246.72 901.00,246.36 905.00,246.28 909.00,246.75 913.00,246.89 917.00,246.78 921.00,246.74 925.00,246.75 929.00,246.69 933.00,246.28 937.00,246.51 941.00,246.38 945.00,246.12 949.00,246.12 953.00,246.32 957.00,246.31 961.00,246.65 965.00,246.87 969.00,246.46 973.00,246.85 977.00,246.89 981.00,246.86 985.00,246.39 989.00,246.28 993.00,246.28 997.00,246.26 1001.00,246.26 1005.00,246.60 1009.00,246.82 1013.00,246.77 1017.00,246.48 1021.00,246.62 1025.00,246.74 1029.00,246.17 1033.00,246.63 1037.00,246.83 1041.00,246.73 1045.00,246.70 1049.00,246.48 1053.00,246.24 1057.00,246.73 1061.00,246.37 1065.00,246.74 1069.00,246.88 1073.00,246.42 1077.00,246.42 1079.00,246.60 1079.60,268.00" fill="none" stroke="#e2e2e2" stroke-width="3.6" stroke-linejoin="round"/>
<polyline points="125.80,246.38 129.80,246.26 133.80,246.61 137.80,246.20 141.80,246.53 145.80,246.41 149.80,246.19 153.80,246.51 157.80,246.18 161.80,246.45 165.80,246.20 169.80,246.21 173.80,246.45 177.80,246.73 181.80,246.24 185.80,246.31 189.80,246.59 193.80,246.81 197.80,246.55 201.80,246.43 205.80,246.83 209.80,246.18 213.80,246.75 217.80,246.35 221.80,246.25 225.80,246.23 229.80,246.37 233.80,246.72 237.80,246.28 241.80,246.56 245.80,246.60 249.80,246.41 253.80,246.53 257.80,246.19 261.80,246.19 265.80,246.29 269.80,246.63 273.80,246.45 277.80,246.37 281.80,246.56 284.90,247.20 285.34,246.37 285.97,245.18 286.50,243.90 286.83,242.74 287.07,241.50 287.30,239.80 287.54,237.52 287.76,234.79 288.00,231.60 288.26,227.96 288.53,223.86 288.80,219.30 289.07,214.11 289.35,208.45 289.60,202.80 289.81,197.33 290.01,191.86 290.20,186.40 290.40,181.28 290.60,176.16 290.80,170.00 291.00,161.78 291.20,152.52 291.40,144.30 291.59,138.15 291.78,133.03 292.00,127.90 292.26,122.13 292.55,116.35 292.90,111.40 293.34,107.18 293.83,103.79 294.30,102.40 294.71,103.79 295.10,107.18 295.50,111.40 295.94,116.35 296.39,122.13 296.80,127.90 297.16,133.37 297.49,138.84 297.80,144.30 298.08,149.89 298.33,155.48 298.60,160.70 298.91,165.33 299.23,169.59 299.50,173.80 299.67,177.90 299.79,181.94 300.00,186.40 300.36,191.58 300.81,197.19 301.30,202.80 301.79,208.45 302.32,214.11 302.90,219.30 303.54,223.86 304.23,227.96 305.00,231.60 305.86,234.79 306.80,237.52 307.80,239.80 308.89,241.65 310.04,243.05 311.10,243.90 311.90,243.92 312.62,243.40 313.60,243.10 315.02,243.32 316.71,243.77 318.50,244.30 320.58,244.98 322.76,245.75 324.30,246.30 328.00,246.07 332.00,245.98 336.00,246.28 340.00,246.22 344.00,245.95 348.00,246.14 352.00,246.12 356.00,246.33 360.00,246.24 363.70,246.20 364.22,245.76 364.96,245.03 365.70,243.70 366.38,241.54 367.06,238.77 367.70,235.70 368.27,232.31 368.80,228.61 369.30,225.00 369.79,221.61 370.25,218.31 370.70,215.00 371.14,211.59 371.57,208.19 372.00,205.00 372.39,202.04 372.79,199.30 373.30,197.00 374.02,195.04 374.87,193.51 375.70,192.90 376.50,193.51 377.28,195.04 378.00,197.00 378.61,199.30 379.16,202.04 379.70,205.00 380.23,208.26 380.74,211.74 381.30,215.00 381.91,217.81 382.57,220.41 383.30,223.00 384.14,225.71 385.05,228.43 386.00,231.00 386.94,233.41 387.91,235.67 389.00,237.70 390.23,239.47 391.58,241.01 393.00,242.30 394.54,243.33 396.16,244.11 397.70,244.70 399.12,245.17 400.47,245.43 401.70,245.30 402.79,244.53 403.77,243.36 404.70,242.30 405.58,241.43 406.42,240.68 407.30,240.30 408.22,240.51 409.18,241.09 410.30,241.70 411.71,242.20 413.29,242.73 414.70,243.30 415.77,243.97 416.68,244.69 417.70,245.30 419.11,245.74 420.63,246.08 421.70,246.30 425.00,246.33 429.00,246.88 433.00,246.19 437.00,246.43 441.00,246.71 445.00,246.22 449.00,246.49 453.00,246.13 457.00,246.63 461.00,246.71 465.00,246.56 469.00,246.80 473.00,246.35 477.00,246.66 481.00,246.58 485.00,246.56 489.00,246.46 493.00,246.77 497.00,246.86 501.00,246.48 505.00,246.63 509.00,246.15 513.00,246.66 517.00,246.62 521.00,246.89 525.00,246.76 529.00,246.33 533.00,246.41 537.00,246.63 541.00,246.12 545.00,246.47 549.00,246.23 553.00,246.19 557.00,246.15 561.00,246.71 565.00,246.20 569.00,246.30 573.00,246.41 577.00,246.80 581.00,246.16 585.00,246.46 589.00,246.54 593.00,246.81 597.00,246.76 601.00,246.79 605.00,246.32 609.00,246.43 613.00,246.39 617.00,246.81 621.00,246.87 625.00,246.22 629.00,246.24 633.00,246.29 637.00,246.29 641.00,246.49 645.00,246.57 649.00,246.31 653.00,246.10 657.00,246.44 661.00,246.40 665.00,246.55 669.00,246.86 673.00,246.65 677.00,246.51 681.00,246.59 685.00,246.64 689.00,246.14 693.00,246.82 697.00,246.72 701.00,246.80 705.00,246.74 709.00,246.41 713.00,246.42 717.00,246.18 721.00,246.61 725.00,246.15 729.00,246.15 733.00,246.27 737.00,246.23 741.00,246.37 745.00,246.14 749.00,246.10 753.00,246.22 757.00,246.18 761.00,246.39 765.00,246.12 769.00,246.80 773.00,246.59 777.00,246.22 781.00,246.30 785.00,246.38 789.00,246.39 793.00,246.20 797.00,246.78 801.00,246.89 805.00,246.47 809.00,246.49 813.00,246.17 817.00,246.18 821.00,246.37 825.00,246.31 829.00,246.76 833.00,246.23 837.00,246.12 841.00,246.86 845.00,246.52 849.00,246.22 853.00,246.53 857.00,246.12 861.00,246.52 865.00,246.88 869.00,246.79 873.00,246.66 877.00,246.31 881.00,246.39 885.00,246.23 889.00,246.72 893.00,246.53 897.00,246.72 901.00,246.36 905.00,246.28 909.00,246.75 913.00,246.89 917.00,246.78 921.00,246.74 925.00,246.75 929.00,246.69 933.00,246.28 937.00,246.51 941.00,246.38 945.00,246.12 949.00,246.12 953.00,246.32 957.00,246.31 961.00,246.65 965.00,246.87 969.00,246.46 973.00,246.85 977.00,246.89 981.00,246.86 985.00,246.39 989.00,246.28 993.00,246.28 997.00,246.26 1001.00,246.26 1005.00,246.60 1009.00,246.82 1013.00,246.77 1017.00,246.48 1021.00,246.62 1025.00,246.74 1029.00,246.17 1033.00,246.63 1037.00,246.83 1041.00,246.73 1045.00,246.70 1049.00,246.48 1053.00,246.24 1057.00,246.73 1061.00,246.37 1065.00,246.74 1069.00,246.88 1073.00,246.42 1077.00,246.42 1079.00,246.60 1079.60,268.00" fill="none" stroke="#262626" stroke-width="1.5" stroke-linejoin="round"/>
<polyline points="125.80,559.71 129.30,559.82 132.80,559.87 136.30,560.00 139.80,559.82 143.30,559.98 146.80,559.02 150.30,559.07 153.80,559.90 157.30,559.73 160.80,559.96 164.30,559.25 167.80,559.57 171.30,559.37 174.80,559.64 178.30,559.67 181.80,559.16 185.30,559.35 188.80,559.40 192.30,559.96 195.80,559.57 199.30,558.52 202.80,559.38 206.30,559.21 209.80,559.70 213.30,559.26 216.80,559.15 220.30,559.93 223.80,559.34 227.30,559.34 230.80,560.03 234.30,559.92 237.80,559.06 241.30,559.52 244.80,559.59 248.30,559.76 251.80,559.33 255.30,560.00 258.80,559.77 262.30,560.02 265.80,559.95 269.30,559.42 272.80,559.48 276.30,559.30 279.80,559.28 283.30,559.20 286.80,559.20 290.30,559.00 293.80,559.01 297.30,559.76 300.80,559.45 304.30,559.43 307.80,559.89 311.30,559.58 314.80,559.43 318.30,559.58 321.80,559.78 325.30,559.20 328.80,560.03 332.30,559.17 335.80,559.82 339.30,559.91 342.80,559.17 346.30,559.86 349.80,559.48 353.30,559.67 356.80,559.16 360.30,559.19 362.80,559.60 363.23,558.91 363.83,557.92 364.30,556.80 364.49,555.69 364.56,554.46 364.70,552.90 365.00,551.07 365.36,548.91 365.70,546.10 365.97,542.37 366.23,537.99 366.50,533.40 366.81,528.86 367.15,524.10 367.50,518.80 367.86,513.03 368.24,506.71 368.60,499.30 368.92,490.29 369.23,480.18 369.60,470.00 370.06,460.05 370.58,450.03 371.10,440.00 371.60,429.26 372.09,418.52 372.60,410.00 373.12,404.93 373.65,402.09 374.20,400.00 374.79,398.19 375.39,397.14 376.00,396.80 376.61,397.14 377.22,398.19 377.80,400.00 378.33,402.09 378.83,404.93 379.30,410.00 379.75,418.52 380.18,429.26 380.60,440.00 380.94,450.03 381.28,460.05 381.80,470.00 382.66,480.18 383.70,490.29 384.70,499.30 385.57,506.71 386.39,513.03 387.20,518.80 387.90,524.10 388.58,528.86 389.60,533.40 391.16,537.99 393.06,542.37 395.00,546.10 396.90,548.91 398.84,551.07 400.80,552.90 402.87,554.48 404.95,555.73 406.70,556.80 408.00,557.74 408.96,558.49 409.60,559.00 412.00,559.31 415.50,560.01 419.00,559.33 422.50,559.83 426.00,559.99 429.50,560.00 433.00,559.46 436.50,559.47 440.00,559.60 443.50,559.15 447.00,558.72 450.50,559.82 454.00,559.87 457.50,559.92 461.00,559.18 464.50,560.00 468.00,559.23 471.50,559.46 475.00,559.70 478.50,559.98 482.00,559.46 485.50,559.98 489.00,559.64 492.50,559.43 496.00,559.44 499.50,559.31 503.00,559.22 506.50,559.28 510.00,559.77 513.50,560.05 517.00,559.30 520.50,559.19 524.00,560.03 527.50,559.08 531.00,558.24 534.50,559.30 538.00,559.68 541.50,559.89 545.00,559.56 548.50,559.53 552.00,559.20 555.50,559.97 559.00,559.18 562.50,559.59 566.00,559.90 569.50,559.27 573.00,559.81 576.50,560.00 580.00,559.43 583.50,558.71 587.00,559.15 590.50,559.53 594.00,558.73 597.50,558.45 601.00,559.16 604.50,559.55 608.00,560.05 611.50,559.92 615.00,560.03 618.50,559.56 622.00,559.59 625.50,559.81 629.00,559.58 632.50,559.41 636.00,559.51 639.50,559.28 643.00,559.49 646.50,560.04 650.00,560.01 653.50,559.71 657.00,559.60 660.50,559.37 664.00,558.51 667.50,559.00 671.00,559.84 674.50,559.93 678.00,559.47 681.50,559.49 685.00,558.99 688.50,559.37 692.00,558.90 695.50,559.79 699.00,559.48 702.50,559.78 706.00,559.40 709.50,559.59 713.00,559.84 716.50,559.77 720.00,559.41 723.50,560.00 727.00,559.73 730.50,559.67 734.00,559.16 737.50,559.64 741.00,559.38 744.50,559.75 748.00,559.57 751.50,559.89 755.00,559.73 758.50,559.87 762.00,559.46 765.50,559.73 769.00,559.81 772.50,559.90 776.00,559.47 779.50,559.91 783.00,559.93 786.50,559.77 790.00,560.03 793.50,560.01 797.00,559.62 800.50,559.63 804.00,559.30 807.50,559.90 811.00,559.99 814.50,559.58 818.00,559.77 821.50,559.80 825.00,559.81 828.50,559.30 832.00,559.85 835.50,559.67 839.00,559.75 842.50,559.53 846.00,559.71 849.50,559.85 853.00,559.72 856.50,559.80 860.00,559.17 863.50,559.29 867.00,559.55 870.50,559.74 874.00,559.35 877.50,559.77 881.00,559.72 884.50,559.19 888.00,559.57 891.50,559.35 895.00,559.20 898.50,559.27 902.00,559.44 905.50,559.31 909.00,559.32 912.50,559.18 916.00,559.57 919.50,559.49 923.00,559.70 926.50,559.68 930.00,559.36 933.50,559.96 937.00,559.15 940.50,559.51 944.00,559.40 947.50,559.52 951.00,559.25 954.50,559.79 958.00,558.08 961.50,558.03 965.00,559.64 968.50,559.23 972.00,559.47 975.50,558.48 979.00,559.30 982.50,560.00 986.00,559.86 989.50,558.83 993.00,558.63 996.50,559.58 1000.00,559.48 1003.50,559.28 1007.00,559.69 1010.50,559.66 1014.00,560.01 1017.50,559.88 1021.00,558.53 1024.50,558.82 1028.00,559.93 1031.50,559.15 1035.00,559.25 1038.50,559.66 1042.00,559.70 1045.50,559.28 1049.00,559.72 1052.50,559.91 1056.00,558.64 1059.50,559.17 1063.00,559.35 1066.50,559.41 1070.00,560.03 1073.50,559.49 1077.00,560.02 1079.50,559.60" fill="none" stroke="#e4e4e4" stroke-width="3.6" stroke-linejoin="round"/>
<polygon points="362.80,559.60 362.80,559.60 363.23,558.91 363.83,557.92 364.30,556.80 364.49,555.69 364.56,554.46 364.70,552.90 365.00,551.07 365.36,548.91 365.70,546.10 365.97,542.37 366.23,537.99 366.50,533.40 366.81,528.86 367.15,524.10 367.50,518.80 367.86,513.03 368.24,506.71 368.60,499.30 368.92,490.29 369.23,480.18 369.60,470.00 370.06,460.05 370.58,450.03 371.10,440.00 371.60,429.26 372.09,418.52 372.60,410.00 373.12,404.93 373.65,402.09 374.20,400.00 374.79,398.19 375.39,397.14 376.00,396.80 376.61,397.14 377.22,398.19 377.80,400.00 378.33,402.09 378.83,404.93 379.30,410.00 379.75,418.52 380.18,429.26 380.60,440.00 380.94,450.03 381.28,460.05 381.80,470.00 382.66,480.18 383.70,490.29 384.70,499.30 385.57,506.71 386.39,513.03 387.20,518.80 387.90,524.10 388.58,528.86 389.60,533.40 391.16,537.99 393.06,542.37 395.00,546.10 396.90,548.91 398.84,551.07 400.80,552.90 402.87,554.48 404.95,555.73 406.70,556.80 408.00,557.74 408.96,558.49 409.60,559.00 409.60,559.60" fill="#c0c0c0" stroke="none"/>
<line x1="363" y1="559.6" x2="409" y2="559.6" stroke="#2a2a2a" stroke-width="1.2"/>
<polyline points="125.80,559.71 129.30,559.82 132.80,559.87 136.30,560.00 139.80,559.82 143.30,559.98 146.80,559.02 150.30,559.07 153.80,559.90 157.30,559.73 160.80,559.96 164.30,559.25 167.80,559.57 171.30,559.37 174.80,559.64 178.30,559.67 181.80,559.16 185.30,559.35 188.80,559.40 192.30,559.96 195.80,559.57 199.30,558.52 202.80,559.38 206.30,559.21 209.80,559.70 213.30,559.26 216.80,559.15 220.30,559.93 223.80,559.34 227.30,559.34 230.80,560.03 234.30,559.92 237.80,559.06 241.30,559.52 244.80,559.59 248.30,559.76 251.80,559.33 255.30,560.00 258.80,559.77 262.30,560.02 265.80,559.95 269.30,559.42 272.80,559.48 276.30,559.30 279.80,559.28 283.30,559.20 286.80,559.20 290.30,559.00 293.80,559.01 297.30,559.76 300.80,559.45 304.30,559.43 307.80,559.89 311.30,559.58 314.80,559.43 318.30,559.58 321.80,559.78 325.30,559.20 328.80,560.03 332.30,559.17 335.80,559.82 339.30,559.91 342.80,559.17 346.30,559.86 349.80,559.48 353.30,559.67 356.80,559.16 360.30,559.19 362.80,559.60 363.23,558.91 363.83,557.92 364.30,556.80 364.49,555.69 364.56,554.46 364.70,552.90 365.00,551.07 365.36,548.91 365.70,546.10 365.97,542.37 366.23,537.99 366.50,533.40 366.81,528.86 367.15,524.10 367.50,518.80 367.86,513.03 368.24,506.71 368.60,499.30 368.92,490.29 369.23,480.18 369.60,470.00 370.06,460.05 370.58,450.03 371.10,440.00 371.60,429.26 372.09,418.52 372.60,410.00 373.12,404.93 373.65,402.09 374.20,400.00 374.79,398.19 375.39,397.14 376.00,396.80 376.61,397.14 377.22,398.19 377.80,400.00 378.33,402.09 378.83,404.93 379.30,410.00 379.75,418.52 380.18,429.26 380.60,440.00 380.94,450.03 381.28,460.05 381.80,470.00 382.66,480.18 383.70,490.29 384.70,499.30 385.57,506.71 386.39,513.03 387.20,518.80 387.90,524.10 388.58,528.86 389.60,533.40 391.16,537.99 393.06,542.37 395.00,546.10 396.90,548.91 398.84,551.07 400.80,552.90 402.87,554.48 404.95,555.73 406.70,556.80 408.00,557.74 408.96,558.49 409.60,559.00 412.00,559.31 415.50,560.01 419.00,559.33 422.50,559.83 426.00,559.99 429.50,560.00 433.00,559.46 436.50,559.47 440.00,559.60 443.50,559.15 447.00,558.72 450.50,559.82 454.00,559.87 457.50,559.92 461.00,559.18 464.50,560.00 468.00,559.23 471.50,559.46 475.00,559.70 478.50,559.98 482.00,559.46 485.50,559.98 489.00,559.64 492.50,559.43 496.00,559.44 499.50,559.31 503.00,559.22 506.50,559.28 510.00,559.77 513.50,560.05 517.00,559.30 520.50,559.19 524.00,560.03 527.50,559.08 531.00,558.24 534.50,559.30 538.00,559.68 541.50,559.89 545.00,559.56 548.50,559.53 552.00,559.20 555.50,559.97 559.00,559.18 562.50,559.59 566.00,559.90 569.50,559.27 573.00,559.81 576.50,560.00 580.00,559.43 583.50,558.71 587.00,559.15 590.50,559.53 594.00,558.73 597.50,558.45 601.00,559.16 604.50,559.55 608.00,560.05 611.50,559.92 615.00,560.03 618.50,559.56 622.00,559.59 625.50,559.81 629.00,559.58 632.50,559.41 636.00,559.51 639.50,559.28 643.00,559.49 646.50,560.04 650.00,560.01 653.50,559.71 657.00,559.60 660.50,559.37 664.00,558.51 667.50,559.00 671.00,559.84 674.50,559.93 678.00,559.47 681.50,559.49 685.00,558.99 688.50,559.37 692.00,558.90 695.50,559.79 699.00,559.48 702.50,559.78 706.00,559.40 709.50,559.59 713.00,559.84 716.50,559.77 720.00,559.41 723.50,560.00 727.00,559.73 730.50,559.67 734.00,559.16 737.50,559.64 741.00,559.38 744.50,559.75 748.00,559.57 751.50,559.89 755.00,559.73 758.50,559.87 762.00,559.46 765.50,559.73 769.00,559.81 772.50,559.90 776.00,559.47 779.50,559.91 783.00,559.93 786.50,559.77 790.00,560.03 793.50,560.01 797.00,559.62 800.50,559.63 804.00,559.30 807.50,559.90 811.00,559.99 814.50,559.58 818.00,559.77 821.50,559.80 825.00,559.81 828.50,559.30 832.00,559.85 835.50,559.67 839.00,559.75 842.50,559.53 846.00,559.71 849.50,559.85 853.00,559.72 856.50,559.80 860.00,559.17 863.50,559.29 867.00,559.55 870.50,559.74 874.00,559.35 877.50,559.77 881.00,559.72 884.50,559.19 888.00,559.57 891.50,559.35 895.00,559.20 898.50,559.27 902.00,559.44 905.50,559.31 909.00,559.32 912.50,559.18 916.00,559.57 919.50,559.49 923.00,559.70 926.50,559.68 930.00,559.36 933.50,559.96 937.00,559.15 940.50,559.51 944.00,559.40 947.50,559.52 951.00,559.25 954.50,559.79 958.00,558.08 961.50,558.03 965.00,559.64 968.50,559.23 972.00,559.47 975.50,558.48 979.00,559.30 982.50,560.00 986.00,559.86 989.50,558.83 993.00,558.63 996.50,559.58 1000.00,559.48 1003.50,559.28 1007.00,559.69 1010.50,559.66 1014.00,560.01 1017.50,559.88 1021.00,558.53 1024.50,558.82 1028.00,559.93 1031.50,559.15 1035.00,559.25 1038.50,559.66 1042.00,559.70 1045.50,559.28 1049.00,559.72 1052.50,559.91 1056.00,558.64 1059.50,559.17 1063.00,559.35 1066.50,559.41 1070.00,560.03 1073.50,559.49 1077.00,560.02 1079.50,559.60" fill="none" stroke="#303030" stroke-width="1.6" stroke-linejoin="round"/>
<text x="362.60" y="397.60" font-size="14.0" text-anchor="start" fill="#1a1a1a" font-weight="normal" textLength="26.40" lengthAdjust="spacingAndGlyphs" stroke="#1a1a1a" stroke-width="0.45">2.623</text>
<text x="365.20" y="410.90" font-size="14.0" text-anchor="start" fill="#1a1a1a" font-weight="normal" textLength="21.80" lengthAdjust="spacingAndGlyphs" stroke="#1a1a1a" stroke-width="0.45">1894</text>
<polyline points="125.80,851.77 127.80,852.07 129.80,851.85 131.80,852.02 133.80,851.73 135.80,852.14 137.80,851.53 139.80,849.75 141.80,849.43 143.80,851.01 145.80,851.89 147.80,852.03 149.80,851.66 151.80,851.86 153.80,852.16 155.80,852.10 157.80,851.30 159.80,852.10 161.80,851.93 163.80,851.80 165.80,852.15 167.80,851.89 169.80,851.20 171.80,851.35 173.80,851.89 175.80,851.94 177.80,851.82 179.80,852.13 181.80,851.57 183.80,851.95 185.80,851.70 187.80,852.14 189.80,851.68 191.80,852.18 193.80,851.58 195.80,850.52 197.80,848.92 199.80,850.86 201.80,849.90 203.80,849.92 205.80,851.63 207.80,851.93 209.80,852.17 211.80,852.07 213.80,852.16 215.80,851.85 217.80,852.00 219.80,851.92 221.80,851.54 223.80,852.02 225.80,851.95 227.80,852.03 229.80,851.02 231.80,850.26 233.80,850.40 235.80,851.61 237.80,851.35 239.80,850.96 241.80,850.89 243.80,851.28 245.80,851.79 247.80,852.02 249.80,851.62 251.80,852.07 253.80,852.01 255.80,852.02 257.80,852.09 259.80,852.05 261.80,851.76 263.80,851.22 265.80,851.20 267.80,851.84 269.80,851.96 271.80,851.67 273.80,851.86 275.80,851.83 277.80,851.93 279.80,851.96 281.80,852.14 283.80,851.93 285.80,851.58 287.80,852.09 289.80,851.96 291.80,851.51 293.80,852.11 295.80,851.86 297.80,851.89 299.80,851.73 301.80,850.85 303.80,850.13 305.80,850.41 307.80,851.09 309.80,851.98 311.80,851.88 313.80,852.16 315.80,852.07 317.80,851.81 319.80,851.95 321.80,852.18 323.80,851.73 325.80,851.93 327.80,851.92 329.80,851.81 331.80,852.10 333.80,851.57 335.80,851.88 337.80,852.05 339.80,851.62 341.80,850.74 343.80,850.97 345.80,851.86 347.80,851.92 349.80,852.14 351.80,851.37 353.80,851.92 355.80,851.39 358.00,852.20 359.27,851.94 361.04,851.56 362.50,851.00 363.30,850.34 363.78,849.52 364.20,848.30 364.60,846.99 364.93,845.28 365.30,842.00 365.79,836.25 366.32,828.94 366.80,821.60 367.15,815.50 367.44,809.39 367.80,801.00 368.28,788.81 368.83,774.35 369.40,760.00 369.99,745.96 370.61,732.04 371.20,720.00 371.75,710.44 372.28,702.78 372.80,697.00 373.30,693.59 373.79,692.06 374.30,691.00 374.85,689.96 375.42,689.38 376.00,689.20 376.60,689.38 377.22,689.96 377.80,691.00 378.32,692.06 378.81,693.59 379.30,697.00 379.80,702.78 380.31,710.44 380.80,720.00 381.19,732.04 381.57,745.96 382.20,760.00 383.26,774.35 384.56,788.81 385.80,801.00 386.74,809.39 387.62,815.50 388.90,821.60 391.02,828.94 393.54,836.25 395.60,842.00 396.70,845.46 397.34,847.34 398.10,848.30 399.25,848.02 400.52,846.81 401.70,846.20 402.69,846.92 403.59,848.24 404.50,849.50 405.57,850.54 406.64,851.52 407.40,852.20 409.50,851.51 411.50,849.99 413.50,849.10 415.50,850.84 417.50,851.15 419.50,851.56 421.50,850.07 423.50,848.75 425.50,850.68 427.50,849.84 429.50,850.15 431.50,851.46 433.50,851.90 435.50,851.70 437.50,851.97 439.50,852.09 441.50,851.56 443.50,851.95 445.50,851.99 447.50,852.01 449.50,851.99 451.50,852.08 453.50,851.92 455.50,852.17 457.50,852.08 459.50,852.16 461.50,852.05 463.50,851.90 465.50,852.03 467.50,852.12 469.50,851.72 471.50,851.64 473.50,851.69 475.50,852.14 477.50,852.03 479.50,851.77 481.50,852.14 483.50,852.13 485.50,851.44 487.50,852.11 489.50,851.93 491.50,851.34 493.50,851.71 495.50,852.13 497.50,851.64 499.50,852.14 501.50,851.64 503.50,850.98 505.50,851.81 507.50,852.00 509.50,852.12 511.50,851.24 513.50,851.16 515.50,849.69 517.50,850.22 519.50,849.94 521.50,849.85 523.50,850.04 525.50,850.31 527.50,850.16 529.50,850.41 531.50,851.48 533.50,851.85 535.50,851.85 537.50,851.96 539.50,851.93 541.50,851.56 543.50,851.13 545.50,850.46 547.50,851.13 549.50,851.26 551.50,852.15 553.50,852.15 555.50,851.86 557.50,852.16 559.50,851.74 561.50,851.58 563.50,851.94 565.50,851.57 567.50,851.35 569.50,850.74 571.50,851.39 573.50,851.73 575.50,852.14 577.50,852.07 579.50,851.81 581.50,851.61 583.50,851.68 585.50,852.18 587.50,851.96 589.50,851.20 591.50,850.21 593.50,851.05 595.50,851.66 597.50,851.68 599.50,851.52 601.50,850.43 603.50,850.71 605.50,851.38 607.50,851.63 609.50,852.07 611.50,851.85 613.50,851.93 615.50,851.47 617.50,851.95 619.50,851.96 621.50,851.94 623.50,852.05 625.50,851.93 627.50,851.89 629.50,851.85 631.50,851.61 633.50,851.86 635.50,850.72 637.50,850.90 639.50,850.98 641.50,851.56 643.50,851.81 645.50,851.34 647.50,850.87 649.50,851.41 651.50,851.80 653.50,851.92 655.50,851.59 657.50,851.82 659.50,852.16 661.50,852.12 663.50,852.16 665.50,852.13 667.50,852.13 669.50,852.08 671.50,851.76 673.50,851.98 675.50,851.62 677.50,852.01 679.50,852.18 681.50,852.12 683.50,852.16 685.50,851.89 687.50,851.21 689.50,850.84 691.50,851.21 693.50,851.68 695.50,851.89 697.50,851.85 699.50,851.83 701.50,851.89 703.50,851.37 705.50,852.11 707.50,851.99 709.50,851.98 711.50,852.17 713.50,851.81 715.50,852.17 717.50,852.15 719.50,851.96 721.50,851.95 723.50,851.26 725.50,851.28 727.50,851.40 729.50,851.67 731.50,851.81 733.50,851.71 735.50,851.82 737.50,852.08 739.50,852.12 741.50,851.69 743.50,851.97 745.50,851.94 747.50,851.92 749.50,851.66 751.50,851.66 753.50,851.88 755.50,851.88 757.50,851.74 759.50,851.73 761.50,851.56 763.50,851.37 765.50,851.33 767.50,851.69 769.50,852.03 771.50,851.56 773.50,851.85 775.50,851.77 777.50,852.03 779.50,851.47 781.50,851.24 783.50,852.08 785.50,851.57 787.50,851.85 789.50,851.25 791.50,850.73 793.50,851.60 795.50,851.86 797.50,851.87 799.50,852.01 801.50,851.63 803.50,852.01 805.50,852.09 807.50,851.99 809.50,851.53 811.50,851.30 813.50,851.73 815.50,851.91 817.50,851.88 819.50,851.67 821.50,852.07 823.50,852.05 825.50,851.64 827.50,852.11 829.50,851.71 831.50,851.13 833.50,851.04 835.50,851.66 837.50,851.97 839.50,852.15 841.50,852.12 843.50,851.78 845.50,852.01 847.50,851.38 849.50,851.23 851.50,851.14 853.50,851.64 855.50,851.77 857.50,852.07 859.50,851.88 861.50,851.78 863.50,851.58 865.50,852.02 867.50,851.50 869.50,851.53 871.50,851.43 873.50,851.24 875.50,851.76 877.50,851.73 879.50,852.10 881.50,852.13 883.50,852.15 885.50,851.79 887.50,852.12 889.50,851.69 891.50,851.83 893.50,851.82 895.50,852.04 897.50,852.15 899.50,852.08 901.50,851.85 903.50,852.11 905.50,851.44 907.50,851.99 909.50,852.15 911.50,851.79 913.50,851.74 915.50,851.14 917.50,850.60 919.50,850.64 921.50,851.66 923.50,852.13 925.50,852.02 927.50,851.75 929.50,852.03 931.50,852.08 933.50,851.93 935.50,851.35 937.50,851.14 939.50,851.46 941.50,851.98 943.50,851.91 945.50,851.90 947.50,851.75 949.50,851.25 951.50,850.40 953.50,850.15 955.50,850.87 957.50,851.13 959.50,850.20 961.50,850.43 963.50,851.67 965.50,851.88 967.50,851.93 969.50,851.86 971.50,851.51 973.50,850.80 975.50,850.71 977.50,851.59 979.50,851.82 981.50,851.79 983.50,851.10 985.50,850.37 987.50,850.12 989.50,850.26 991.50,849.27 993.50,850.41 995.50,851.58 997.50,851.83 999.50,851.47 1001.50,851.95 1003.50,850.97 1005.50,852.06 1007.50,852.08 1009.50,852.16 1011.50,851.64 1013.50,852.19 1015.50,852.04 1017.50,852.00 1019.50,851.66 1021.50,851.32 1023.50,850.72 1025.50,850.93 1027.50,851.68 1029.50,851.94 1031.50,852.17 1033.50,851.88 1035.50,851.50 1037.50,852.03 1039.50,852.17 1041.50,851.61 1043.50,852.18 1045.50,851.67 1047.50,852.19 1049.50,852.14 1051.50,851.91 1053.50,851.18 1055.50,850.66 1057.50,851.16 1059.50,851.99 1061.50,851.90 1063.50,850.24 1065.50,846.61 1067.50,848.90 1069.50,851.30 1071.50,851.29 1073.50,852.05 1075.50,851.92 1077.50,850.46 1079.50,851.90" fill="none" stroke="#f4bcc2" stroke-width="4.2" stroke-linejoin="round"/>
<polygon points="125.80,852.20 125.80,851.77 127.80,852.07 129.80,851.85 131.80,852.02 133.80,851.73 135.80,852.14 137.80,851.53 139.80,849.75 141.80,849.43 143.80,851.01 145.80,851.89 147.80,852.03 149.80,851.66 151.80,851.86 153.80,852.16 155.80,852.10 157.80,851.30 159.80,852.10 161.80,851.93 163.80,851.80 165.80,852.15 167.80,851.89 169.80,851.20 171.80,851.35 173.80,851.89 175.80,851.94 177.80,851.82 179.80,852.13 181.80,851.57 183.80,851.95 185.80,851.70 187.80,852.14 189.80,851.68 191.80,852.18 193.80,851.58 195.80,850.52 197.80,848.92 199.80,850.86 201.80,849.90 203.80,849.92 205.80,851.63 207.80,851.93 209.80,852.17 211.80,852.07 213.80,852.16 215.80,851.85 217.80,852.00 219.80,851.92 221.80,851.54 223.80,852.02 225.80,851.95 227.80,852.03 229.80,851.02 231.80,850.26 233.80,850.40 235.80,851.61 237.80,851.35 239.80,850.96 241.80,850.89 243.80,851.28 245.80,851.79 247.80,852.02 249.80,851.62 251.80,852.07 253.80,852.01 255.80,852.02 257.80,852.09 259.80,852.05 261.80,851.76 263.80,851.22 265.80,851.20 267.80,851.84 269.80,851.96 271.80,851.67 273.80,851.86 275.80,851.83 277.80,851.93 279.80,851.96 281.80,852.14 283.80,851.93 285.80,851.58 287.80,852.09 289.80,851.96 291.80,851.51 293.80,852.11 295.80,851.86 297.80,851.89 299.80,851.73 301.80,850.85 303.80,850.13 305.80,850.41 307.80,851.09 309.80,851.98 311.80,851.88 313.80,852.16 315.80,852.07 317.80,851.81 319.80,851.95 321.80,852.18 323.80,851.73 325.80,851.93 327.80,851.92 329.80,851.81 331.80,852.10 333.80,851.57 335.80,851.88 337.80,852.05 339.80,851.62 341.80,850.74 343.80,850.97 345.80,851.86 347.80,851.92 349.80,852.14 351.80,851.37 353.80,851.92 355.80,851.39 358.00,852.20 359.27,851.94 361.04,851.56 362.50,851.00 363.30,850.34 363.78,849.52 364.20,848.30 364.60,846.99 364.93,845.28 365.30,842.00 365.79,836.25 366.32,828.94 366.80,821.60 367.15,815.50 367.44,809.39 367.80,801.00 368.28,788.81 368.83,774.35 369.40,760.00 369.99,745.96 370.61,732.04 371.20,720.00 371.75,710.44 372.28,702.78 372.80,697.00 373.30,693.59 373.79,692.06 374.30,691.00 374.85,689.96 375.42,689.38 376.00,689.20 376.60,689.38 377.22,689.96 377.80,691.00 378.32,692.06 378.81,693.59 379.30,697.00 379.80,702.78 380.31,710.44 380.80,720.00 381.19,732.04 381.57,745.96 382.20,760.00 383.26,774.35 384.56,788.81 385.80,801.00 386.74,809.39 387.62,815.50 388.90,821.60 391.02,828.94 393.54,836.25 395.60,842.00 396.70,845.46 397.34,847.34 398.10,848.30 399.25,848.02 400.52,846.81 401.70,846.20 402.69,846.92 403.59,848.24 404.50,849.50 405.57,850.54 406.64,851.52 407.40,852.20 409.50,851.51 411.50,849.99 413.50,849.10 415.50,850.84 417.50,851.15 419.50,851.56 421.50,850.07 423.50,848.75 425.50,850.68 427.50,849.84 429.50,850.15 431.50,851.46 433.50,851.90 435.50,851.70 437.50,851.97 439.50,852.09 441.50,851.56 443.50,851.95 445.50,851.99 447.50,852.01 449.50,851.99 451.50,852.08 453.50,851.92 455.50,852.17 457.50,852.08 459.50,852.16 461.50,852.05 463.50,851.90 465.50,852.03 467.50,852.12 469.50,851.72 471.50,851.64 473.50,851.69 475.50,852.14 477.50,852.03 479.50,851.77 481.50,852.14 483.50,852.13 485.50,851.44 487.50,852.11 489.50,851.93 491.50,851.34 493.50,851.71 495.50,852.13 497.50,851.64 499.50,852.14 501.50,851.64 503.50,850.98 505.50,851.81 507.50,852.00 509.50,852.12 511.50,851.24 513.50,851.16 515.50,849.69 517.50,850.22 519.50,849.94 521.50,849.85 523.50,850.04 525.50,850.31 527.50,850.16 529.50,850.41 531.50,851.48 533.50,851.85 535.50,851.85 537.50,851.96 539.50,851.93 541.50,851.56 543.50,851.13 545.50,850.46 547.50,851.13 549.50,851.26 551.50,852.15 553.50,852.15 555.50,851.86 557.50,852.16 559.50,851.74 561.50,851.58 563.50,851.94 565.50,851.57 567.50,851.35 569.50,850.74 571.50,851.39 573.50,851.73 575.50,852.14 577.50,852.07 579.50,851.81 581.50,851.61 583.50,851.68 585.50,852.18 587.50,851.96 589.50,851.20 591.50,850.21 593.50,851.05 595.50,851.66 597.50,851.68 599.50,851.52 601.50,850.43 603.50,850.71 605.50,851.38 607.50,851.63 609.50,852.07 611.50,851.85 613.50,851.93 615.50,851.47 617.50,851.95 619.50,851.96 621.50,851.94 623.50,852.05 625.50,851.93 627.50,851.89 629.50,851.85 631.50,851.61 633.50,851.86 635.50,850.72 637.50,850.90 639.50,850.98 641.50,851.56 643.50,851.81 645.50,851.34 647.50,850.87 649.50,851.41 651.50,851.80 653.50,851.92 655.50,851.59 657.50,851.82 659.50,852.16 661.50,852.12 663.50,852.16 665.50,852.13 667.50,852.13 669.50,852.08 671.50,851.76 673.50,851.98 675.50,851.62 677.50,852.01 679.50,852.18 681.50,852.12 683.50,852.16 685.50,851.89 687.50,851.21 689.50,850.84 691.50,851.21 693.50,851.68 695.50,851.89 697.50,851.85 699.50,851.83 701.50,851.89 703.50,851.37 705.50,852.11 707.50,851.99 709.50,851.98 711.50,852.17 713.50,851.81 715.50,852.17 717.50,852.15 719.50,851.96 721.50,851.95 723.50,851.26 725.50,851.28 727.50,851.40 729.50,851.67 731.50,851.81 733.50,851.71 735.50,851.82 737.50,852.08 739.50,852.12 741.50,851.69 743.50,851.97 745.50,851.94 747.50,851.92 749.50,851.66 751.50,851.66 753.50,851.88 755.50,851.88 757.50,851.74 759.50,851.73 761.50,851.56 763.50,851.37 765.50,851.33 767.50,851.69 769.50,852.03 771.50,851.56 773.50,851.85 775.50,851.77 777.50,852.03 779.50,851.47 781.50,851.24 783.50,852.08 785.50,851.57 787.50,851.85 789.50,851.25 791.50,850.73 793.50,851.60 795.50,851.86 797.50,851.87 799.50,852.01 801.50,851.63 803.50,852.01 805.50,852.09 807.50,851.99 809.50,851.53 811.50,851.30 813.50,851.73 815.50,851.91 817.50,851.88 819.50,851.67 821.50,852.07 823.50,852.05 825.50,851.64 827.50,852.11 829.50,851.71 831.50,851.13 833.50,851.04 835.50,851.66 837.50,851.97 839.50,852.15 841.50,852.12 843.50,851.78 845.50,852.01 847.50,851.38 849.50,851.23 851.50,851.14 853.50,851.64 855.50,851.77 857.50,852.07 859.50,851.88 861.50,851.78 863.50,851.58 865.50,852.02 867.50,851.50 869.50,851.53 871.50,851.43 873.50,851.24 875.50,851.76 877.50,851.73 879.50,852.10 881.50,852.13 883.50,852.15 885.50,851.79 887.50,852.12 889.50,851.69 891.50,851.83 893.50,851.82 895.50,852.04 897.50,852.15 899.50,852.08 901.50,851.85 903.50,852.11 905.50,851.44 907.50,851.99 909.50,852.15 911.50,851.79 913.50,851.74 915.50,851.14 917.50,850.60 919.50,850.64 921.50,851.66 923.50,852.13 925.50,852.02 927.50,851.75 929.50,852.03 931.50,852.08 933.50,851.93 935.50,851.35 937.50,851.14 939.50,851.46 941.50,851.98 943.50,851.91 945.50,851.90 947.50,851.75 949.50,851.25 951.50,850.40 953.50,850.15 955.50,850.87 957.50,851.13 959.50,850.20 961.50,850.43 963.50,851.67 965.50,851.88 967.50,851.93 969.50,851.86 971.50,851.51 973.50,850.80 975.50,850.71 977.50,851.59 979.50,851.82 981.50,851.79 983.50,851.10 985.50,850.37 987.50,850.12 989.50,850.26 991.50,849.27 993.50,850.41 995.50,851.58 997.50,851.83 999.50,851.47 1001.50,851.95 1003.50,850.97 1005.50,852.06 1007.50,852.08 1009.50,852.16 1011.50,851.64 1013.50,852.19 1015.50,852.04 1017.50,852.00 1019.50,851.66 1021.50,851.32 1023.50,850.72 1025.50,850.93 1027.50,851.68 1029.50,851.94 1031.50,852.17 1033.50,851.88 1035.50,851.50 1037.50,852.03 1039.50,852.17 1041.50,851.61 1043.50,852.18 1045.50,851.67 1047.50,852.19 1049.50,852.14 1051.50,851.91 1053.50,851.18 1055.50,850.66 1057.50,851.16 1059.50,851.99 1061.50,851.90 1063.50,850.24 1065.50,846.61 1067.50,848.90 1069.50,851.30 1071.50,851.29 1073.50,852.05 1075.50,851.92 1077.50,850.46 1079.50,851.90 1079.00,852.20" fill="#f7b7bd" stroke="none"/>
<line x1="358" y1="852.2" x2="407" y2="852.2" stroke="#c05060" stroke-width="1.2"/>
<polyline points="125.80,851.77 127.80,852.07 129.80,851.85 131.80,852.02 133.80,851.73 135.80,852.14 137.80,851.53 139.80,849.75 141.80,849.43 143.80,851.01 145.80,851.89 147.80,852.03 149.80,851.66 151.80,851.86 153.80,852.16 155.80,852.10 157.80,851.30 159.80,852.10 161.80,851.93 163.80,851.80 165.80,852.15 167.80,851.89 169.80,851.20 171.80,851.35 173.80,851.89 175.80,851.94 177.80,851.82 179.80,852.13 181.80,851.57 183.80,851.95 185.80,851.70 187.80,852.14 189.80,851.68 191.80,852.18 193.80,851.58 195.80,850.52 197.80,848.92 199.80,850.86 201.80,849.90 203.80,849.92 205.80,851.63 207.80,851.93 209.80,852.17 211.80,852.07 213.80,852.16 215.80,851.85 217.80,852.00 219.80,851.92 221.80,851.54 223.80,852.02 225.80,851.95 227.80,852.03 229.80,851.02 231.80,850.26 233.80,850.40 235.80,851.61 237.80,851.35 239.80,850.96 241.80,850.89 243.80,851.28 245.80,851.79 247.80,852.02 249.80,851.62 251.80,852.07 253.80,852.01 255.80,852.02 257.80,852.09 259.80,852.05 261.80,851.76 263.80,851.22 265.80,851.20 267.80,851.84 269.80,851.96 271.80,851.67 273.80,851.86 275.80,851.83 277.80,851.93 279.80,851.96 281.80,852.14 283.80,851.93 285.80,851.58 287.80,852.09 289.80,851.96 291.80,851.51 293.80,852.11 295.80,851.86 297.80,851.89 299.80,851.73 301.80,850.85 303.80,850.13 305.80,850.41 307.80,851.09 309.80,851.98 311.80,851.88 313.80,852.16 315.80,852.07 317.80,851.81 319.80,851.95 321.80,852.18 323.80,851.73 325.80,851.93 327.80,851.92 329.80,851.81 331.80,852.10 333.80,851.57 335.80,851.88 337.80,852.05 339.80,851.62 341.80,850.74 343.80,850.97 345.80,851.86 347.80,851.92 349.80,852.14 351.80,851.37 353.80,851.92 355.80,851.39 358.00,852.20 359.27,851.94 361.04,851.56 362.50,851.00 363.30,850.34 363.78,849.52 364.20,848.30 364.60,846.99 364.93,845.28 365.30,842.00 365.79,836.25 366.32,828.94 366.80,821.60 367.15,815.50 367.44,809.39 367.80,801.00 368.28,788.81 368.83,774.35 369.40,760.00 369.99,745.96 370.61,732.04 371.20,720.00 371.75,710.44 372.28,702.78 372.80,697.00 373.30,693.59 373.79,692.06 374.30,691.00 374.85,689.96 375.42,689.38 376.00,689.20 376.60,689.38 377.22,689.96 377.80,691.00 378.32,692.06 378.81,693.59 379.30,697.00 379.80,702.78 380.31,710.44 380.80,720.00 381.19,732.04 381.57,745.96 382.20,760.00 383.26,774.35 384.56,788.81 385.80,801.00 386.74,809.39 387.62,815.50 388.90,821.60 391.02,828.94 393.54,836.25 395.60,842.00 396.70,845.46 397.34,847.34 398.10,848.30 399.25,848.02 400.52,846.81 401.70,846.20 402.69,846.92 403.59,848.24 404.50,849.50 405.57,850.54 406.64,851.52 407.40,852.20 409.50,851.51 411.50,849.99 413.50,849.10 415.50,850.84 417.50,851.15 419.50,851.56 421.50,850.07 423.50,848.75 425.50,850.68 427.50,849.84 429.50,850.15 431.50,851.46 433.50,851.90 435.50,851.70 437.50,851.97 439.50,852.09 441.50,851.56 443.50,851.95 445.50,851.99 447.50,852.01 449.50,851.99 451.50,852.08 453.50,851.92 455.50,852.17 457.50,852.08 459.50,852.16 461.50,852.05 463.50,851.90 465.50,852.03 467.50,852.12 469.50,851.72 471.50,851.64 473.50,851.69 475.50,852.14 477.50,852.03 479.50,851.77 481.50,852.14 483.50,852.13 485.50,851.44 487.50,852.11 489.50,851.93 491.50,851.34 493.50,851.71 495.50,852.13 497.50,851.64 499.50,852.14 501.50,851.64 503.50,850.98 505.50,851.81 507.50,852.00 509.50,852.12 511.50,851.24 513.50,851.16 515.50,849.69 517.50,850.22 519.50,849.94 521.50,849.85 523.50,850.04 525.50,850.31 527.50,850.16 529.50,850.41 531.50,851.48 533.50,851.85 535.50,851.85 537.50,851.96 539.50,851.93 541.50,851.56 543.50,851.13 545.50,850.46 547.50,851.13 549.50,851.26 551.50,852.15 553.50,852.15 555.50,851.86 557.50,852.16 559.50,851.74 561.50,851.58 563.50,851.94 565.50,851.57 567.50,851.35 569.50,850.74 571.50,851.39 573.50,851.73 575.50,852.14 577.50,852.07 579.50,851.81 581.50,851.61 583.50,851.68 585.50,852.18 587.50,851.96 589.50,851.20 591.50,850.21 593.50,851.05 595.50,851.66 597.50,851.68 599.50,851.52 601.50,850.43 603.50,850.71 605.50,851.38 607.50,851.63 609.50,852.07 611.50,851.85 613.50,851.93 615.50,851.47 617.50,851.95 619.50,851.96 621.50,851.94 623.50,852.05 625.50,851.93 627.50,851.89 629.50,851.85 631.50,851.61 633.50,851.86 635.50,850.72 637.50,850.90 639.50,850.98 641.50,851.56 643.50,851.81 645.50,851.34 647.50,850.87 649.50,851.41 651.50,851.80 653.50,851.92 655.50,851.59 657.50,851.82 659.50,852.16 661.50,852.12 663.50,852.16 665.50,852.13 667.50,852.13 669.50,852.08 671.50,851.76 673.50,851.98 675.50,851.62 677.50,852.01 679.50,852.18 681.50,852.12 683.50,852.16 685.50,851.89 687.50,851.21 689.50,850.84 691.50,851.21 693.50,851.68 695.50,851.89 697.50,851.85 699.50,851.83 701.50,851.89 703.50,851.37 705.50,852.11 707.50,851.99 709.50,851.98 711.50,852.17 713.50,851.81 715.50,852.17 717.50,852.15 719.50,851.96 721.50,851.95 723.50,851.26 725.50,851.28 727.50,851.40 729.50,851.67 731.50,851.81 733.50,851.71 735.50,851.82 737.50,852.08 739.50,852.12 741.50,851.69 743.50,851.97 745.50,851.94 747.50,851.92 749.50,851.66 751.50,851.66 753.50,851.88 755.50,851.88 757.50,851.74 759.50,851.73 761.50,851.56 763.50,851.37 765.50,851.33 767.50,851.69 769.50,852.03 771.50,851.56 773.50,851.85 775.50,851.77 777.50,852.03 779.50,851.47 781.50,851.24 783.50,852.08 785.50,851.57 787.50,851.85 789.50,851.25 791.50,850.73 793.50,851.60 795.50,851.86 797.50,851.87 799.50,852.01 801.50,851.63 803.50,852.01 805.50,852.09 807.50,851.99 809.50,851.53 811.50,851.30 813.50,851.73 815.50,851.91 817.50,851.88 819.50,851.67 821.50,852.07 823.50,852.05 825.50,851.64 827.50,852.11 829.50,851.71 831.50,851.13 833.50,851.04 835.50,851.66 837.50,851.97 839.50,852.15 841.50,852.12 843.50,851.78 845.50,852.01 847.50,851.38 849.50,851.23 851.50,851.14 853.50,851.64 855.50,851.77 857.50,852.07 859.50,851.88 861.50,851.78 863.50,851.58 865.50,852.02 867.50,851.50 869.50,851.53 871.50,851.43 873.50,851.24 875.50,851.76 877.50,851.73 879.50,852.10 881.50,852.13 883.50,852.15 885.50,851.79 887.50,852.12 889.50,851.69 891.50,851.83 893.50,851.82 895.50,852.04 897.50,852.15 899.50,852.08 901.50,851.85 903.50,852.11 905.50,851.44 907.50,851.99 909.50,852.15 911.50,851.79 913.50,851.74 915.50,851.14 917.50,850.60 919.50,850.64 921.50,851.66 923.50,852.13 925.50,852.02 927.50,851.75 929.50,852.03 931.50,852.08 933.50,851.93 935.50,851.35 937.50,851.14 939.50,851.46 941.50,851.98 943.50,851.91 945.50,851.90 947.50,851.75 949.50,851.25 951.50,850.40 953.50,850.15 955.50,850.87 957.50,851.13 959.50,850.20 961.50,850.43 963.50,851.67 965.50,851.88 967.50,851.93 969.50,851.86 971.50,851.51 973.50,850.80 975.50,850.71 977.50,851.59 979.50,851.82 981.50,851.79 983.50,851.10 985.50,850.37 987.50,850.12 989.50,850.26 991.50,849.27 993.50,850.41 995.50,851.58 997.50,851.83 999.50,851.47 1001.50,851.95 1003.50,850.97 1005.50,852.06 1007.50,852.08 1009.50,852.16 1011.50,851.64 1013.50,852.19 1015.50,852.04 1017.50,852.00 1019.50,851.66 1021.50,851.32 1023.50,850.72 1025.50,850.93 1027.50,851.68 1029.50,851.94 1031.50,852.17 1033.50,851.88 1035.50,851.50 1037.50,852.03 1039.50,852.17 1041.50,851.61 1043.50,852.18 1045.50,851.67 1047.50,852.19 1049.50,852.14 1051.50,851.91 1053.50,851.18 1055.50,850.66 1057.50,851.16 1059.50,851.99 1061.50,851.90 1063.50,850.24 1065.50,846.61 1067.50,848.90 1069.50,851.30 1071.50,851.29 1073.50,852.05 1075.50,851.92 1077.50,850.46 1079.50,851.90" fill="none" stroke="#b44c58" stroke-width="1.6" stroke-linejoin="round"/>
<text x="362.40" y="690.50" font-size="14.0" text-anchor="start" fill="#d0343f" font-weight="normal" textLength="26.30" lengthAdjust="spacingAndGlyphs" stroke="#d0343f" stroke-width="0.45">2.628</text>
<text x="367.30" y="704.10" font-size="14.0" text-anchor="start" fill="#d0343f" font-weight="normal" textLength="17.50" lengthAdjust="spacingAndGlyphs" stroke="#d0343f" stroke-width="0.45">568</text>
<text x="388.70" y="828.90" font-size="14.0" text-anchor="start" fill="#d0343f" font-weight="normal" textLength="26.30" lengthAdjust="spacingAndGlyphs" stroke="#d0343f" stroke-width="0.45">2.897</text>
<text x="398.50" y="842.50" font-size="14.0" text-anchor="start" fill="#d0343f" font-weight="normal" textLength="5.80" lengthAdjust="spacingAndGlyphs" stroke="#d0343f" stroke-width="0.45">6</text>
<text x="1052.00" y="829.10" font-size="14.0" text-anchor="start" fill="#d0343f" font-weight="normal" textLength="26.50" lengthAdjust="spacingAndGlyphs" stroke="#d0343f" stroke-width="0.45">9.855</text>
<text x="1062.30" y="842.30" font-size="14.0" text-anchor="start" fill="#d0343f" font-weight="normal" textLength="6.10" lengthAdjust="spacingAndGlyphs" stroke="#d0343f" stroke-width="0.45">8</text>
</svg>
</body></html>
